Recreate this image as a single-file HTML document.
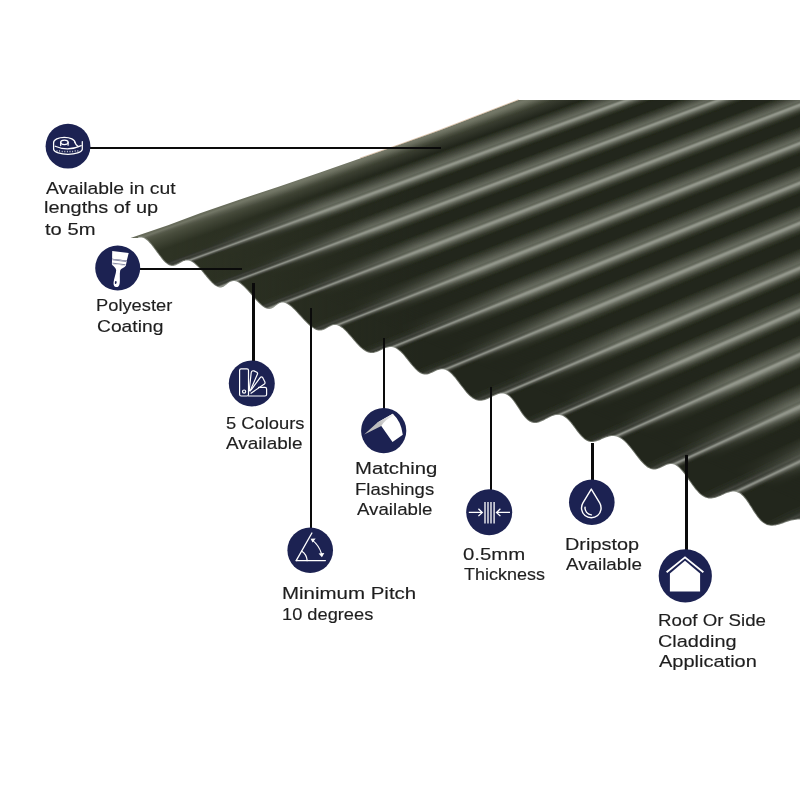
<!DOCTYPE html>
<html><head><meta charset="utf-8"><style>
html,body{margin:0;padding:0;background:#fff;}
body{width:800px;height:800px;position:relative;overflow:hidden;}
.t{position:absolute;font-family:"Liberation Sans",sans-serif;font-size:17.0px;line-height:18.989px;color:#1e1e1e;-webkit-text-stroke:0.15px #1e1e1e;white-space:nowrap;transform-origin:0 0;}
.ln{position:absolute;background:#0a0a0a;}
</style></head><body>
<svg width="800" height="800" viewBox="0 0 800 800" style="position:absolute;left:0;top:0">
<defs>
<filter id="eb" x="-5%" y="-5%" width="110%" height="110%"><feGaussianBlur stdDeviation="0.6"/></filter>
<mask id="sil" maskUnits="userSpaceOnUse" x="0" y="0" width="800" height="800"><path d="M518.5,100.0 L440.0,130.2 L400.0,144.6 L360.0,158.4 L320.0,172.6 L280.0,186.2 L240.0,199.6 L200.0,213.2 L168.0,225.2 L130.5,238.0 L138.0,237.9 L138.9,237.6 L139.8,237.5 L140.7,237.4 L141.7,237.5 L142.6,237.7 L143.6,238.1 L144.6,238.6 L145.6,239.2 L146.6,239.9 L147.6,240.8 L148.6,241.8 L149.6,242.9 L150.7,244.1 L151.7,245.3 L152.8,246.7 L153.8,248.1 L154.9,249.5 L156.0,250.9 L157.0,252.4 L158.1,253.8 L159.1,255.3 L160.2,256.6 L161.2,257.9 L162.2,259.2 L163.2,260.4 L164.2,261.4 L165.2,262.4 L166.2,263.3 L167.2,264.0 L168.1,264.7 L169.1,265.2 L170.0,265.6 L170.9,265.8 L171.8,266.0 L172.7,266.0 L173.5,265.9 L174.4,265.8 L175.2,265.5 L176.1,265.2 L176.9,264.8 L177.8,264.3 L178.6,263.9 L179.4,263.4 L180.3,262.9 L181.1,262.4 L182.0,261.9 L182.8,261.5 L183.7,261.1 L184.6,260.9 L185.5,260.6 L186.4,260.5 L187.3,260.5 L188.2,260.6 L189.2,260.8 L190.2,261.1 L191.2,261.5 L192.2,262.1 L193.3,262.7 L194.3,263.5 L195.4,264.4 L196.5,265.4 L197.6,266.4 L198.7,267.6 L199.8,268.8 L201.0,270.1 L202.1,271.4 L203.2,272.8 L204.3,274.2 L205.5,275.5 L206.6,276.9 L207.7,278.2 L208.8,279.5 L209.9,280.7 L210.9,281.8 L212.0,282.9 L213.0,283.8 L214.0,284.7 L215.0,285.5 L216.0,286.1 L216.9,286.6 L217.8,287.0 L218.6,287.3 L219.5,287.4 L220.3,287.5 L221.1,287.4 L221.9,287.3 L222.6,287.0 L223.4,286.7 L224.1,286.3 L224.8,285.8 L225.5,285.3 L226.2,284.8 L227.0,284.2 L227.7,283.6 L228.4,283.1 L229.1,282.6 L229.9,282.1 L230.6,281.7 L231.4,281.4 L232.2,281.2 L233.1,281.0 L233.9,281.0 L234.8,281.1 L235.7,281.3 L236.7,281.6 L237.6,282.0 L238.7,282.6 L239.7,283.2 L240.8,284.0 L241.9,284.9 L243.1,285.9 L244.2,287.0 L245.4,288.2 L246.6,289.5 L247.8,290.8 L249.1,292.2 L250.3,293.6 L251.5,295.0 L252.7,296.4 L254.0,297.8 L255.2,299.2 L256.4,300.5 L257.6,301.8 L258.8,303.0 L259.9,304.1 L261.0,305.1 L262.1,306.0 L263.2,306.8 L264.2,307.4 L265.2,308.0 L266.2,308.4 L267.1,308.7 L268.0,308.9 L268.9,309.0 L269.7,309.0 L270.5,308.8 L271.3,308.6 L272.1,308.2 L272.8,307.8 L273.5,307.4 L274.3,306.9 L275.0,306.3 L275.7,305.8 L276.4,305.2 L277.1,304.7 L277.8,304.2 L278.6,303.7 L279.3,303.3 L280.1,302.9 L280.9,302.7 L281.7,302.5 L282.6,302.5 L283.4,302.6 L284.3,302.7 L285.3,303.0 L286.3,303.5 L287.3,304.0 L288.4,304.7 L289.5,305.4 L290.6,306.3 L291.8,307.3 L293.0,308.4 L294.2,309.6 L295.4,310.8 L296.6,312.1 L297.9,313.5 L299.2,314.9 L300.5,316.3 L301.8,317.7 L303.0,319.1 L304.3,320.5 L305.6,321.8 L306.9,323.1 L308.1,324.3 L309.4,325.4 L310.6,326.4 L311.8,327.3 L313.0,328.1 L314.1,328.8 L315.3,329.4 L316.3,329.9 L317.4,330.2 L318.4,330.5 L319.5,330.6 L320.4,330.6 L321.4,330.5 L322.3,330.3 L323.2,330.0 L324.1,329.7 L325.0,329.3 L325.9,328.8 L326.7,328.3 L327.6,327.8 L328.4,327.3 L329.3,326.8 L330.1,326.4 L331.0,326.0 L331.9,325.6 L332.7,325.3 L333.6,325.1 L334.5,325.0 L335.4,325.0 L336.3,325.1 L337.3,325.3 L338.3,325.7 L339.2,326.1 L340.3,326.7 L341.3,327.4 L342.4,328.1 L343.4,329.0 L344.5,330.0 L345.6,331.1 L346.8,332.3 L347.9,333.6 L349.1,334.9 L350.3,336.2 L351.5,337.6 L352.7,339.0 L353.9,340.4 L355.1,341.8 L356.3,343.2 L357.5,344.5 L358.7,345.7 L359.9,346.9 L361.1,348.0 L362.3,349.0 L363.5,349.9 L364.7,350.7 L365.9,351.4 L367.0,351.9 L368.2,352.4 L369.3,352.7 L370.5,352.9 L371.6,353.0 L372.7,353.0 L373.8,352.9 L374.9,352.6 L376.0,352.3 L377.1,352.0 L378.2,351.5 L379.3,351.1 L380.3,350.6 L381.4,350.0 L382.4,349.5 L383.5,349.0 L384.5,348.5 L385.6,348.1 L386.6,347.7 L387.7,347.4 L388.7,347.2 L389.8,347.0 L390.8,347.0 L391.9,347.1 L393.0,347.3 L394.0,347.6 L395.1,348.0 L396.2,348.5 L397.2,349.2 L398.3,350.0 L399.4,350.9 L400.5,351.8 L401.6,352.9 L402.7,354.1 L403.8,355.3 L404.8,356.6 L405.9,357.9 L407.0,359.3 L408.1,360.7 L409.2,362.1 L410.3,363.4 L411.4,364.8 L412.5,366.1 L413.6,367.3 L414.7,368.5 L415.7,369.6 L416.8,370.5 L417.8,371.4 L418.9,372.2 L419.9,372.9 L421.0,373.4 L422.0,373.9 L423.1,374.2 L424.1,374.4 L425.1,374.5 L426.1,374.5 L427.1,374.4 L428.1,374.2 L429.1,373.9 L430.1,373.5 L431.1,373.1 L432.1,372.7 L433.1,372.2 L434.1,371.7 L435.1,371.2 L436.1,370.8 L437.1,370.3 L438.1,370.0 L439.1,369.7 L440.1,369.4 L441.1,369.3 L442.2,369.3 L443.2,369.3 L444.2,369.5 L445.3,369.8 L446.3,370.3 L447.4,370.8 L448.5,371.5 L449.5,372.3 L450.6,373.3 L451.7,374.3 L452.8,375.5 L453.9,376.7 L455.1,378.0 L456.2,379.5 L457.3,380.9 L458.5,382.4 L459.6,384.0 L460.8,385.6 L462.0,387.1 L463.2,388.6 L464.3,390.1 L465.5,391.6 L466.7,393.0 L467.9,394.3 L469.1,395.5 L470.3,396.5 L471.6,397.5 L472.8,398.4 L474.0,399.1 L475.2,399.7 L476.5,400.2 L477.7,400.5 L478.9,400.7 L480.2,400.7 L481.4,400.7 L482.7,400.5 L483.9,400.3 L485.2,399.9 L486.4,399.4 L487.7,398.9 L488.9,398.4 L490.1,397.8 L491.3,397.2 L492.5,396.5 L493.8,395.9 L494.9,395.4 L496.1,394.9 L497.3,394.4 L498.5,394.0 L499.7,393.7 L500.8,393.6 L501.9,393.5 L503.1,393.6 L504.2,393.7 L505.3,394.1 L506.3,394.5 L507.4,395.1 L508.4,395.8 L509.5,396.6 L510.5,397.6 L511.5,398.6 L512.5,399.8 L513.5,401.1 L514.5,402.4 L515.4,403.8 L516.4,405.3 L517.4,406.8 L518.4,408.3 L519.4,409.8 L520.3,411.3 L521.3,412.8 L522.3,414.2 L523.3,415.5 L524.3,416.8 L525.4,417.9 L526.4,419.0 L527.4,419.9 L528.5,420.8 L529.5,421.5 L530.6,422.0 L531.7,422.5 L532.9,422.8 L534.0,423.0 L535.2,423.0 L536.4,422.9 L537.6,422.7 L538.8,422.4 L540.0,422.0 L541.2,421.5 L542.4,421.0 L543.7,420.4 L544.9,419.8 L546.1,419.1 L547.4,418.4 L548.6,417.8 L549.8,417.2 L551.1,416.6 L552.3,416.1 L553.5,415.7 L554.8,415.3 L556.0,415.1 L557.2,414.9 L558.4,414.9 L559.5,415.0 L560.7,415.2 L561.9,415.6 L563.0,416.1 L564.1,416.7 L565.2,417.4 L566.3,418.2 L567.4,419.2 L568.4,420.3 L569.5,421.4 L570.5,422.6 L571.6,423.9 L572.6,425.3 L573.7,426.7 L574.7,428.1 L575.8,429.5 L576.8,430.9 L577.8,432.2 L578.9,433.6 L579.9,434.8 L581.0,436.0 L582.0,437.1 L583.1,438.1 L584.1,439.0 L585.2,439.8 L586.3,440.5 L587.4,441.0 L588.5,441.4 L589.6,441.7 L590.7,441.9 L591.9,442.0 L593.0,442.0 L594.2,441.8 L595.4,441.6 L596.6,441.2 L597.8,440.8 L599.0,440.4 L600.2,439.9 L601.4,439.3 L602.6,438.8 L603.9,438.3 L605.1,437.8 L606.4,437.3 L607.6,436.9 L608.9,436.5 L610.1,436.2 L611.4,436.1 L612.7,436.0 L613.9,436.1 L615.2,436.2 L616.5,436.5 L617.8,437.0 L619.0,437.5 L620.3,438.2 L621.6,439.1 L622.9,440.0 L624.1,441.1 L625.4,442.3 L626.7,443.6 L627.9,445.0 L629.2,446.4 L630.5,448.0 L631.7,449.6 L633.0,451.2 L634.2,452.8 L635.5,454.5 L636.7,456.1 L638.0,457.7 L639.2,459.2 L640.4,460.7 L641.6,462.0 L642.8,463.3 L644.0,464.5 L645.2,465.6 L646.3,466.5 L647.5,467.4 L648.6,468.0 L649.8,468.6 L650.9,469.0 L652.0,469.3 L653.1,469.5 L654.2,469.5 L655.3,469.4 L656.4,469.2 L657.5,469.0 L658.5,468.6 L659.6,468.2 L660.6,467.7 L661.7,467.2 L662.7,466.7 L663.8,466.2 L664.8,465.7 L665.8,465.2 L666.9,464.8 L667.9,464.5 L669.0,464.2 L670.0,464.0 L671.1,464.0 L672.1,464.1 L673.2,464.3 L674.2,464.6 L675.3,465.1 L676.4,465.7 L677.5,466.4 L678.5,467.3 L679.6,468.3 L680.7,469.4 L681.8,470.7 L682.9,472.0 L684.1,473.5 L685.2,475.0 L686.3,476.6 L687.5,478.2 L688.6,479.9 L689.8,481.6 L691.0,483.3 L692.2,485.0 L693.4,486.6 L694.6,488.2 L695.8,489.7 L697.1,491.1 L698.3,492.4 L699.5,493.7 L700.8,494.7 L702.1,495.7 L703.4,496.5 L704.7,497.2 L706.0,497.7 L707.3,498.1 L708.6,498.4 L710.0,498.5 L711.3,498.5 L712.7,498.3 L714.1,498.1 L715.4,497.7 L716.8,497.3 L718.1,496.8 L719.5,496.3 L720.9,495.7 L722.2,495.0 L723.6,494.4 L724.9,493.8 L726.2,493.3 L727.6,492.8 L728.9,492.4 L730.2,492.0 L731.5,491.8 L732.7,491.6 L734.0,491.6 L735.2,491.7 L736.4,492.0 L737.6,492.4 L738.8,492.9 L740.0,493.6 L741.1,494.4 L742.2,495.4 L743.3,496.5 L744.3,497.7 L745.4,499.0 L746.5,500.4 L747.5,501.9 L748.6,503.5 L749.6,505.2 L750.7,506.8 L751.8,508.5 L752.8,510.2 L753.9,511.9 L755.0,513.6 L756.1,515.1 L757.2,516.7 L758.3,518.1 L759.5,519.4 L760.6,520.7 L761.8,521.8 L763.1,522.8 L764.3,523.6 L765.6,524.3 L766.9,524.9 L768.3,525.3 L769.7,525.6 L771.1,525.7 L772.5,525.7 L774.0,525.6 L775.5,525.4 L777.0,525.1 L778.6,524.7 L780.1,524.3 L781.7,523.7 L783.3,523.2 L784.9,522.6 L786.5,522.0 L788.1,521.5 L789.7,521.0 L791.3,520.5 L793.0,520.2 L794.6,519.9 L796.2,519.7 L797.8,519.6 L799.4,519.6 L801.0,519.8 L802.6,520.2 L804.2,520.6 L805.7,521.2 L807.3,522.0 L808.8,522.9 L810.3,523.9 L811.8,525.1 L813.2,526.4 L814.7,527.8 L816.1,529.3 L817.5,530.8 L818.9,532.5 L820.3,534.2 L821.7,535.9 L823.0,537.7 L824.4,539.4 L825.7,541.2 L827.0,542.8 L828.3,544.5 L829.6,546.0 L830.8,547.5 L832.0,548.8 L833.3,550.0 L834.5,551.1 L835.6,552.1 L836.8,552.9 L838.0,553.5 L839.1,554.0 L840.2,554.4 L841.3,554.6 L842.4,554.6 L843.5,554.5 L812.0,554.5 L812.0,100.0Z" fill="#fff" filter="url(#eb)"/></mask>
<filter id="bl" x="-5%" y="-5%" width="110%" height="110%"><feGaussianBlur stdDeviation="0.45"/></filter>
<linearGradient id="lr" gradientUnits="userSpaceOnUse" x1="150" y1="0" x2="600" y2="0">
<stop offset="0" stop-color="#6a7052" stop-opacity="0.0"/>
<stop offset="1" stop-color="#6a7052" stop-opacity="0"/>
</linearGradient>
<linearGradient id="ebg" gradientUnits="userSpaceOnUse" x1="130.5" y1="238.0" x2="137.9" y2="258.7"><stop offset="0" stop-color="#6a6e5c" stop-opacity="0.95"/><stop offset="0.45" stop-color="#6a6e5c" stop-opacity="0.4275"/><stop offset="1" stop-color="#6a6e5c" stop-opacity="0"/></linearGradient>
<linearGradient id="lt" gradientUnits="userSpaceOnUse" x1="170" y1="0" x2="430" y2="0"><stop offset="0" stop-color="#2e3324" stop-opacity="1"/><stop offset="1" stop-color="#2e3324" stop-opacity="0"/></linearGradient>
<linearGradient id="bmg" gradientUnits="userSpaceOnUse" x1="149.0" y1="224.1" x2="182.4" y2="145.9"><stop offset="0" stop-color="#000"/><stop offset="1" stop-color="#fff"/></linearGradient>
<mask id="bm" maskUnits="userSpaceOnUse" x="0" y="0" width="800" height="800"><rect x="0" y="0" width="800" height="800" fill="url(#bmg)"/></mask>
</defs>
<g mask="url(#sil)">
<rect x="0" y="0" width="800" height="800" fill="#21251a"/>
<g filter="url(#bl)"><path d="M39.9,228.2 L437.0,90.0 L442.9,90.0 L42.1,229.7Z" fill="#8e9189"/><path d="M40.3,228.5 L438.2,90.0 L444.1,90.0 L42.6,230.0Z" fill="#7e8179"/><path d="M40.8,228.8 L439.4,90.0 L445.3,90.0 L43.0,230.3Z" fill="#6b6e65"/><path d="M41.2,229.1 L440.6,90.0 L446.5,90.0 L43.4,230.6Z" fill="#585b52"/><path d="M41.7,229.4 L441.7,90.0 L447.7,90.0 L43.9,230.9Z" fill="#4a4d44"/><path d="M42.1,229.7 L442.9,90.0 L448.8,90.0 L44.3,231.1Z" fill="#41443b"/><path d="M42.6,230.0 L444.1,90.0 L450.0,90.0 L44.8,231.4Z" fill="#393c33"/><path d="M43.0,230.3 L445.3,90.0 L451.2,90.0 L45.2,231.7Z" fill="#30332a"/><path d="M43.4,230.6 L446.5,90.0 L452.4,90.0 L45.7,232.0Z" fill="#2b2e24"/><path d="M43.9,230.9 L447.7,90.0 L453.6,90.0 L46.1,232.3Z" fill="#282c22"/><path d="M44.3,231.1 L448.8,90.0 L454.7,90.0 L46.6,232.6Z" fill="#262a1e"/><path d="M44.8,231.4 L450.0,90.0 L529.4,90.0 L75.2,251.5Z" fill="#22271a"/><path d="M73.4,250.3 L524.7,90.0 L534.0,90.0 L77.0,252.6Z" fill="#272b20"/><path d="M75.2,251.5 L529.4,90.0 L538.6,90.0 L78.8,253.8Z" fill="#292e24"/><path d="M77.0,252.6 L534.0,90.0 L540.9,90.0 L79.7,254.4Z" fill="#2b2f26"/><path d="M77.9,253.2 L536.3,90.0 L542.0,90.0 L80.1,254.7Z" fill="#2e3229"/><path d="M78.4,253.5 L537.4,90.0 L543.2,90.0 L80.6,255.0Z" fill="#33362e"/><path d="M78.8,253.8 L538.6,90.0 L544.3,90.0 L81.0,255.3Z" fill="#373a32"/><path d="M79.2,254.1 L539.7,90.0 L545.5,90.0 L81.5,255.6Z" fill="#3b3f36"/><path d="M79.7,254.4 L540.9,90.0 L547.7,90.0 L82.4,256.2Z" fill="#40433b"/><path d="M80.6,255.0 L543.2,90.0 L548.9,90.0 L82.8,256.5Z" fill="#3c3f37"/><path d="M81.0,255.3 L544.3,90.0 L551.2,90.0 L83.7,257.1Z" fill="#393c34"/><path d="M81.9,255.9 L546.6,90.0 L552.3,90.0 L84.2,257.4Z" fill="#41443c"/><path d="M82.4,256.2 L547.7,90.0 L553.5,90.0 L84.6,257.6Z" fill="#494c44"/><path d="M82.8,256.5 L548.9,90.0 L554.6,90.0 L85.1,257.9Z" fill="#50534b"/><path d="M83.3,256.8 L550.0,90.0 L555.8,90.0 L85.5,258.2Z" fill="#666a62"/><path d="M83.7,257.1 L551.2,90.0 L556.9,90.0 L86.0,258.5Z" fill="#7d8078"/><path d="M84.2,257.4 L552.3,90.0 L558.0,90.0 L86.4,258.8Z" fill="#8e9189"/><path d="M84.6,257.6 L553.5,90.0 L558.6,90.0 L87.0,258.8Z" fill="#8e9189"/><path d="M85.1,257.9 L554.5,90.0 L559.6,90.0 L87.5,259.1Z" fill="#7e8179"/><path d="M85.6,258.1 L555.5,90.0 L560.6,90.0 L88.0,259.3Z" fill="#6b6e65"/><path d="M86.0,258.4 L556.5,90.0 L561.7,90.0 L88.4,259.5Z" fill="#585b52"/><path d="M86.5,258.6 L557.6,90.0 L562.7,90.0 L88.9,259.8Z" fill="#4a4d44"/><path d="M87.0,258.8 L558.6,90.0 L563.7,90.0 L89.4,260.0Z" fill="#41443b"/><path d="M87.5,259.1 L559.6,90.0 L564.7,90.0 L89.9,260.2Z" fill="#393c33"/><path d="M88.0,259.3 L560.6,90.0 L565.8,90.0 L90.3,260.5Z" fill="#30332a"/><path d="M88.4,259.5 L561.7,90.0 L566.8,90.0 L90.8,260.7Z" fill="#2b2e24"/><path d="M88.9,259.8 L562.7,90.0 L567.8,90.0 L91.3,261.0Z" fill="#282c22"/><path d="M89.4,260.0 L563.7,90.0 L568.8,90.0 L91.8,261.2Z" fill="#262a1e"/><path d="M89.9,260.2 L564.7,90.0 L633.6,90.0 L122.3,276.3Z" fill="#22271a"/><path d="M120.4,275.4 L629.5,90.0 L637.6,90.0 L124.2,277.3Z" fill="#272b20"/><path d="M122.3,276.3 L633.6,90.0 L641.6,90.0 L126.1,278.2Z" fill="#292e24"/><path d="M124.2,277.3 L637.6,90.0 L643.6,90.0 L127.1,278.7Z" fill="#2b2f26"/><path d="M125.2,277.8 L639.6,90.0 L644.6,90.0 L127.5,278.9Z" fill="#2e3229"/><path d="M125.6,278.0 L640.6,90.0 L645.6,90.0 L128.0,279.2Z" fill="#33362e"/><path d="M126.1,278.2 L641.6,90.0 L646.6,90.0 L128.5,279.4Z" fill="#373a32"/><path d="M126.6,278.5 L642.6,90.0 L647.6,90.0 L129.0,279.6Z" fill="#3b3f36"/><path d="M127.1,278.7 L643.6,90.0 L649.6,90.0 L129.9,280.1Z" fill="#40433b"/><path d="M128.0,279.2 L645.6,90.0 L650.6,90.0 L130.4,280.4Z" fill="#3c3f37"/><path d="M128.5,279.4 L646.6,90.0 L652.6,90.0 L131.4,280.8Z" fill="#393c34"/><path d="M129.4,279.9 L648.6,90.0 L653.6,90.0 L131.8,281.1Z" fill="#41443c"/><path d="M129.9,280.1 L649.6,90.0 L654.6,90.0 L132.3,281.3Z" fill="#494c44"/><path d="M130.4,280.4 L650.6,90.0 L655.6,90.0 L132.8,281.5Z" fill="#50534b"/><path d="M130.9,280.6 L651.6,90.0 L656.5,90.0 L133.3,281.8Z" fill="#666a62"/><path d="M131.4,280.8 L652.6,90.0 L657.5,90.0 L133.7,282.0Z" fill="#7d8078"/><path d="M131.8,281.1 L653.6,90.0 L658.5,90.0 L134.2,282.2Z" fill="#8e9189"/><path d="M132.3,281.3 L654.6,90.0 L659.2,90.0 L134.6,282.3Z" fill="#8e9189"/><path d="M132.8,281.5 L655.5,90.0 L660.1,90.0 L135.1,282.6Z" fill="#7e8179"/><path d="M133.2,281.7 L656.4,90.0 L661.0,90.0 L135.6,282.8Z" fill="#6b6e65"/><path d="M133.7,281.9 L657.3,90.0 L661.9,90.0 L136.0,283.0Z" fill="#585b52"/><path d="M134.2,282.1 L658.2,90.0 L662.8,90.0 L136.5,283.2Z" fill="#4a4d44"/><path d="M134.6,282.3 L659.2,90.0 L663.8,90.0 L137.0,283.4Z" fill="#41443b"/><path d="M135.1,282.6 L660.1,90.0 L664.7,90.0 L137.4,283.6Z" fill="#393c33"/><path d="M135.6,282.8 L661.0,90.0 L665.6,90.0 L137.9,283.8Z" fill="#30332a"/><path d="M136.0,283.0 L661.9,90.0 L666.5,90.0 L138.4,284.0Z" fill="#2b2e24"/><path d="M136.5,283.2 L662.8,90.0 L667.4,90.0 L138.8,284.2Z" fill="#282c22"/><path d="M137.0,283.4 L663.8,90.0 L668.3,90.0 L139.3,284.4Z" fill="#262a1e"/><path d="M137.4,283.6 L664.7,90.0 L726.6,90.0 L169.2,297.8Z" fill="#22271a"/><path d="M167.3,297.0 L723.0,90.0 L730.2,90.0 L171.0,298.6Z" fill="#272b20"/><path d="M169.2,297.8 L726.6,90.0 L733.8,90.0 L172.9,299.5Z" fill="#292e24"/><path d="M171.0,298.6 L730.2,90.0 L735.6,90.0 L173.8,299.9Z" fill="#2b2f26"/><path d="M172.0,299.1 L732.0,90.0 L736.5,90.0 L174.3,300.1Z" fill="#2e3229"/><path d="M172.4,299.3 L732.9,90.0 L737.4,90.0 L174.8,300.3Z" fill="#33362e"/><path d="M172.9,299.5 L733.8,90.0 L738.3,90.0 L175.2,300.5Z" fill="#373a32"/><path d="M173.4,299.7 L734.7,90.0 L739.2,90.0 L175.7,300.7Z" fill="#3b3f36"/><path d="M173.8,299.9 L735.6,90.0 L741.0,90.0 L176.6,301.1Z" fill="#40433b"/><path d="M174.8,300.3 L737.4,90.0 L741.9,90.0 L177.1,301.4Z" fill="#3c3f37"/><path d="M175.2,300.5 L738.3,90.0 L743.7,90.0 L178.0,301.8Z" fill="#393c34"/><path d="M176.2,300.9 L740.1,90.0 L744.6,90.0 L178.5,302.0Z" fill="#41443c"/><path d="M176.6,301.1 L741.0,90.0 L745.5,90.0 L179.0,302.2Z" fill="#494c44"/><path d="M177.1,301.4 L741.9,90.0 L746.4,90.0 L179.4,302.4Z" fill="#50534b"/><path d="M177.6,301.6 L742.8,90.0 L747.3,90.0 L179.9,302.6Z" fill="#666a62"/><path d="M178.0,301.8 L743.7,90.0 L748.2,90.0 L180.4,302.8Z" fill="#7d8078"/><path d="M178.5,302.0 L744.6,90.0 L749.1,90.0 L180.9,303.0Z" fill="#8e9189"/><path d="M179.0,302.2 L745.5,90.0 L750.2,90.0 L181.4,303.3Z" fill="#8e9189"/><path d="M179.5,302.4 L746.5,90.0 L751.2,90.0 L181.9,303.5Z" fill="#7e8179"/><path d="M180.0,302.6 L747.4,90.0 L752.1,90.0 L182.4,303.7Z" fill="#6b6e65"/><path d="M180.4,302.8 L748.3,90.0 L753.0,90.0 L182.9,303.9Z" fill="#585b52"/><path d="M180.9,303.1 L749.3,90.0 L754.0,90.0 L183.4,304.2Z" fill="#4a4d44"/><path d="M181.4,303.3 L750.2,90.0 L754.9,90.0 L183.9,304.4Z" fill="#41443b"/><path d="M181.9,303.5 L751.2,90.0 L755.9,90.0 L184.4,304.6Z" fill="#393c33"/><path d="M182.4,303.7 L752.1,90.0 L756.8,90.0 L184.8,304.8Z" fill="#30332a"/><path d="M182.9,303.9 L753.0,90.0 L757.7,90.0 L185.3,305.0Z" fill="#2b2e24"/><path d="M183.4,304.2 L754.0,90.0 L758.7,90.0 L185.8,305.3Z" fill="#282c22"/><path d="M183.9,304.4 L754.9,90.0 L759.6,90.0 L186.3,305.5Z" fill="#262a1e"/><path d="M184.4,304.6 L755.9,90.0 L819.1,90.0 L217.5,319.5Z" fill="#22271a"/><path d="M215.6,318.6 L815.4,90.0 L822.8,90.0 L219.5,320.4Z" fill="#272b20"/><path d="M217.5,319.5 L819.1,90.0 L826.5,90.0 L221.4,321.3Z" fill="#292e24"/><path d="M219.5,320.4 L822.8,90.0 L828.4,90.0 L222.4,321.7Z" fill="#2b2f26"/><path d="M220.5,320.8 L824.7,90.0 L829.3,90.0 L222.9,321.9Z" fill="#2e3229"/><path d="M221.0,321.0 L825.6,90.0 L830.2,90.0 L223.4,322.1Z" fill="#33362e"/><path d="M221.4,321.3 L826.5,90.0 L831.1,90.0 L223.9,322.3Z" fill="#373a32"/><path d="M221.9,321.5 L827.4,90.0 L832.0,90.0 L224.4,322.6Z" fill="#3b3f36"/><path d="M222.4,321.7 L828.4,90.0 L833.9,90.0 L225.3,323.0Z" fill="#40433b"/><path d="M223.4,322.1 L830.2,90.0 L834.8,90.0 L225.8,323.2Z" fill="#3c3f37"/><path d="M223.9,322.3 L831.1,90.0 L836.6,90.0 L226.8,323.7Z" fill="#393c34"/><path d="M224.9,322.8 L833.0,90.0 L837.5,90.0 L227.3,323.9Z" fill="#41443c"/><path d="M225.3,323.0 L833.9,90.0 L838.5,90.0 L227.8,324.1Z" fill="#494c44"/><path d="M225.8,323.2 L834.8,90.0 L839.4,90.0 L228.3,324.3Z" fill="#50534b"/><path d="M226.3,323.4 L835.7,90.0 L840.3,90.0 L228.8,324.5Z" fill="#666a62"/><path d="M226.8,323.7 L836.6,90.0 L841.2,90.0 L229.3,324.8Z" fill="#7d8078"/><path d="M227.3,323.9 L837.5,90.0 L842.1,90.0 L229.7,325.0Z" fill="#8e9189"/><path d="M227.8,324.1 L838.5,90.0 L843.4,90.0 L230.4,325.3Z" fill="#8e9189"/><path d="M228.3,324.3 L839.4,90.0 L844.3,90.0 L231.0,325.5Z" fill="#7e8179"/><path d="M228.8,324.6 L840.4,90.0 L845.3,90.0 L231.5,325.7Z" fill="#6b6e65"/><path d="M229.4,324.8 L841.4,90.0 L846.3,90.0 L232.0,325.9Z" fill="#585b52"/><path d="M229.9,325.0 L842.4,90.0 L847.3,90.0 L232.6,326.2Z" fill="#4a4d44"/><path d="M230.4,325.3 L843.4,90.0 L848.3,90.0 L233.1,326.4Z" fill="#41443b"/><path d="M231.0,325.5 L844.3,90.0 L849.2,90.0 L233.6,326.6Z" fill="#393c33"/><path d="M231.5,325.7 L845.3,90.0 L850.2,90.0 L234.2,326.9Z" fill="#30332a"/><path d="M232.0,325.9 L846.3,90.0 L851.2,90.0 L234.7,327.1Z" fill="#2b2e24"/><path d="M232.6,326.2 L847.3,90.0 L852.2,90.0 L235.2,327.3Z" fill="#282c22"/><path d="M233.1,326.4 L848.3,90.0 L853.1,90.0 L235.8,327.6Z" fill="#262a1e"/><path d="M233.6,326.6 L849.2,90.0 L915.1,90.0 L269.7,342.3Z" fill="#22271a"/><path d="M267.6,341.4 L911.3,90.0 L919.0,90.0 L271.9,343.2Z" fill="#272b20"/><path d="M269.7,342.3 L915.1,90.0 L922.8,90.0 L274.0,344.1Z" fill="#292e24"/><path d="M271.9,343.2 L919.0,90.0 L924.7,90.0 L275.0,344.6Z" fill="#2b2f26"/><path d="M272.9,343.7 L920.9,90.0 L925.7,90.0 L275.6,344.8Z" fill="#2e3229"/><path d="M273.5,343.9 L921.8,90.0 L926.6,90.0 L276.1,345.1Z" fill="#33362e"/><path d="M274.0,344.1 L922.8,90.0 L927.6,90.0 L276.6,345.3Z" fill="#373a32"/><path d="M274.5,344.4 L923.8,90.0 L928.5,90.0 L277.2,345.5Z" fill="#3b3f36"/><path d="M275.0,344.6 L924.7,90.0 L930.5,90.0 L278.2,346.0Z" fill="#40433b"/><path d="M276.1,345.1 L926.6,90.0 L931.4,90.0 L278.8,346.2Z" fill="#3c3f37"/><path d="M276.6,345.3 L927.6,90.0 L933.3,90.0 L279.8,346.7Z" fill="#393c34"/><path d="M277.7,345.8 L929.5,90.0 L934.3,90.0 L280.4,346.9Z" fill="#41443c"/><path d="M278.2,346.0 L930.5,90.0 L935.2,90.0 L280.9,347.1Z" fill="#494c44"/><path d="M278.8,346.2 L931.4,90.0 L936.2,90.0 L281.4,347.4Z" fill="#50534b"/><path d="M279.3,346.4 L932.4,90.0 L937.1,90.0 L282.0,347.6Z" fill="#666a62"/><path d="M279.8,346.7 L933.3,90.0 L938.1,90.0 L282.5,347.8Z" fill="#7d8078"/><path d="M280.4,346.9 L934.3,90.0 L939.1,90.0 L283.0,348.1Z" fill="#8e9189"/><path d="M280.9,347.1 L935.2,90.0 L940.1,90.0 L283.7,348.3Z" fill="#8e9189"/><path d="M281.4,347.4 L936.2,90.0 L941.0,90.0 L284.2,348.5Z" fill="#7e8179"/><path d="M282.0,347.6 L937.2,90.0 L942.0,90.0 L284.8,348.7Z" fill="#6b6e65"/><path d="M282.6,347.8 L938.1,90.0 L943.0,90.0 L285.4,348.9Z" fill="#585b52"/><path d="M283.1,348.0 L939.1,90.0 L943.9,90.0 L285.9,349.2Z" fill="#4a4d44"/><path d="M283.7,348.3 L940.1,90.0 L944.9,90.0 L286.5,349.4Z" fill="#41443b"/><path d="M284.2,348.5 L941.0,90.0 L945.8,90.0 L287.0,349.6Z" fill="#393c33"/><path d="M284.8,348.7 L942.0,90.0 L946.8,90.0 L287.6,349.8Z" fill="#30332a"/><path d="M285.4,348.9 L943.0,90.0 L947.8,90.0 L288.1,350.1Z" fill="#2b2e24"/><path d="M285.9,349.2 L943.9,90.0 L948.7,90.0 L288.7,350.3Z" fill="#282c22"/><path d="M286.5,349.4 L944.9,90.0 L949.7,90.0 L289.3,350.5Z" fill="#262a1e"/><path d="M287.0,349.6 L945.8,90.0 L1010.7,90.0 L325.0,364.9Z" fill="#22271a"/><path d="M322.7,364.0 L1007.0,90.0 L1014.5,90.0 L327.2,365.8Z" fill="#272b20"/><path d="M325.0,364.9 L1010.7,90.0 L1018.3,90.0 L329.4,366.7Z" fill="#292e24"/><path d="M327.2,365.8 L1014.5,90.0 L1020.2,90.0 L330.6,367.1Z" fill="#2b2f26"/><path d="M328.3,366.2 L1016.4,90.0 L1021.1,90.0 L331.1,367.3Z" fill="#2e3229"/><path d="M328.9,366.4 L1017.4,90.0 L1022.1,90.0 L331.7,367.6Z" fill="#33362e"/><path d="M329.4,366.7 L1018.3,90.0 L1023.0,90.0 L332.2,367.8Z" fill="#373a32"/><path d="M330.0,366.9 L1019.2,90.0 L1024.0,90.0 L332.8,368.0Z" fill="#3b3f36"/><path d="M330.6,367.1 L1020.2,90.0 L1025.9,90.0 L333.9,368.5Z" fill="#40433b"/><path d="M331.7,367.6 L1022.1,90.0 L1026.8,90.0 L334.5,368.7Z" fill="#3c3f37"/><path d="M332.2,367.8 L1023.0,90.0 L1028.7,90.0 L335.6,369.1Z" fill="#393c34"/><path d="M333.3,368.2 L1024.9,90.0 L1029.6,90.0 L336.1,369.3Z" fill="#41443c"/><path d="M333.9,368.5 L1025.9,90.0 L1030.6,90.0 L336.7,369.6Z" fill="#494c44"/><path d="M334.5,368.7 L1026.8,90.0 L1031.5,90.0 L337.3,369.8Z" fill="#50534b"/><path d="M335.0,368.9 L1027.7,90.0 L1032.4,90.0 L337.8,370.0Z" fill="#666a62"/><path d="M335.6,369.1 L1028.7,90.0 L1033.4,90.0 L338.4,370.2Z" fill="#7d8078"/><path d="M336.1,369.3 L1029.6,90.0 L1034.3,90.0 L338.9,370.5Z" fill="#8e9189"/><path d="M336.7,369.6 L1030.6,90.0 L1035.2,90.0 L339.3,370.7Z" fill="#8e9189"/><path d="M337.2,369.8 L1031.5,90.0 L1036.1,90.0 L339.8,371.0Z" fill="#7e8179"/><path d="M337.7,370.0 L1032.4,90.0 L1037.0,90.0 L340.4,371.2Z" fill="#6b6e65"/><path d="M338.3,370.3 L1033.3,90.0 L1037.9,90.0 L340.9,371.4Z" fill="#585b52"/><path d="M338.8,370.5 L1034.3,90.0 L1038.9,90.0 L341.4,371.6Z" fill="#4a4d44"/><path d="M339.3,370.7 L1035.2,90.0 L1039.8,90.0 L341.9,371.9Z" fill="#41443b"/><path d="M339.8,371.0 L1036.1,90.0 L1040.7,90.0 L342.5,372.1Z" fill="#393c33"/><path d="M340.4,371.2 L1037.0,90.0 L1041.6,90.0 L343.0,372.3Z" fill="#30332a"/><path d="M340.9,371.4 L1037.9,90.0 L1042.6,90.0 L343.5,372.6Z" fill="#2b2e24"/><path d="M341.4,371.6 L1038.9,90.0 L1043.5,90.0 L344.0,372.8Z" fill="#282c22"/><path d="M341.9,371.9 L1039.8,90.0 L1044.4,90.0 L344.6,373.0Z" fill="#262a1e"/><path d="M342.5,372.1 L1040.7,90.0 L1102.9,90.0 L378.2,387.7Z" fill="#22271a"/><path d="M376.1,386.8 L1099.2,90.0 L1106.5,90.0 L380.3,388.6Z" fill="#272b20"/><path d="M378.2,387.7 L1102.9,90.0 L1110.1,90.0 L382.4,389.5Z" fill="#292e24"/><path d="M380.3,388.6 L1106.5,90.0 L1111.9,90.0 L383.4,390.0Z" fill="#2b2f26"/><path d="M381.3,389.1 L1108.3,90.0 L1112.8,90.0 L384.0,390.2Z" fill="#2e3229"/><path d="M381.9,389.3 L1109.2,90.0 L1113.7,90.0 L384.5,390.5Z" fill="#33362e"/><path d="M382.4,389.5 L1110.1,90.0 L1114.6,90.0 L385.0,390.7Z" fill="#373a32"/><path d="M382.9,389.8 L1111.0,90.0 L1115.5,90.0 L385.5,390.9Z" fill="#3b3f36"/><path d="M383.4,390.0 L1111.9,90.0 L1117.3,90.0 L386.6,391.4Z" fill="#40433b"/><path d="M384.5,390.5 L1113.7,90.0 L1118.2,90.0 L387.1,391.6Z" fill="#3c3f37"/><path d="M385.0,390.7 L1114.6,90.0 L1120.0,90.0 L388.2,392.1Z" fill="#393c34"/><path d="M386.1,391.2 L1116.4,90.0 L1120.9,90.0 L388.7,392.3Z" fill="#41443c"/><path d="M386.6,391.4 L1117.3,90.0 L1121.8,90.0 L389.2,392.5Z" fill="#494c44"/><path d="M387.1,391.6 L1118.2,90.0 L1122.7,90.0 L389.7,392.8Z" fill="#50534b"/><path d="M387.6,391.8 L1119.1,90.0 L1123.6,90.0 L390.3,393.0Z" fill="#666a62"/><path d="M388.2,392.1 L1120.0,90.0 L1124.5,90.0 L390.8,393.2Z" fill="#7d8078"/><path d="M388.7,392.3 L1120.9,90.0 L1125.4,90.0 L391.3,393.5Z" fill="#8e9189"/><path d="M389.2,392.5 L1121.8,90.0 L1126.8,90.0 L392.2,393.8Z" fill="#8e9189"/><path d="M389.8,392.8 L1122.8,90.0 L1127.8,90.0 L392.8,394.0Z" fill="#7e8179"/><path d="M390.4,393.0 L1123.8,90.0 L1128.7,90.0 L393.3,394.2Z" fill="#6b6e65"/><path d="M391.0,393.3 L1124.8,90.0 L1129.7,90.0 L393.9,394.5Z" fill="#585b52"/><path d="M391.6,393.5 L1125.8,90.0 L1130.7,90.0 L394.5,394.7Z" fill="#4a4d44"/><path d="M392.2,393.8 L1126.8,90.0 L1131.7,90.0 L395.1,395.0Z" fill="#41443b"/><path d="M392.8,394.0 L1127.8,90.0 L1132.7,90.0 L395.7,395.2Z" fill="#393c33"/><path d="M393.3,394.2 L1128.7,90.0 L1133.7,90.0 L396.3,395.5Z" fill="#30332a"/><path d="M393.9,394.5 L1129.7,90.0 L1134.6,90.0 L396.9,395.7Z" fill="#2b2e24"/><path d="M394.5,394.7 L1130.7,90.0 L1135.6,90.0 L397.5,396.0Z" fill="#282c22"/><path d="M395.1,395.0 L1131.7,90.0 L1136.6,90.0 L398.1,396.2Z" fill="#262a1e"/><path d="M395.7,395.2 L1132.7,90.0 L1199.0,90.0 L435.9,411.9Z" fill="#22271a"/><path d="M433.5,410.9 L1195.1,90.0 L1202.9,90.0 L438.3,412.9Z" fill="#272b20"/><path d="M435.9,411.9 L1199.0,90.0 L1206.7,90.0 L440.6,413.9Z" fill="#292e24"/><path d="M438.3,412.9 L1202.9,90.0 L1208.7,90.0 L441.8,414.4Z" fill="#2b2f26"/><path d="M439.4,413.4 L1204.8,90.0 L1209.6,90.0 L442.4,414.6Z" fill="#2e3229"/><path d="M440.0,413.6 L1205.8,90.0 L1210.6,90.0 L443.0,414.8Z" fill="#33362e"/><path d="M440.6,413.9 L1206.7,90.0 L1211.6,90.0 L443.6,415.1Z" fill="#373a32"/><path d="M441.2,414.1 L1207.7,90.0 L1212.5,90.0 L444.2,415.3Z" fill="#3b3f36"/><path d="M441.8,414.4 L1208.7,90.0 L1214.4,90.0 L445.3,415.8Z" fill="#40433b"/><path d="M443.0,414.8 L1210.6,90.0 L1215.4,90.0 L445.9,416.1Z" fill="#3c3f37"/><path d="M443.6,415.1 L1211.6,90.0 L1217.3,90.0 L447.1,416.6Z" fill="#393c34"/><path d="M444.8,415.6 L1213.5,90.0 L1218.3,90.0 L447.7,416.8Z" fill="#41443c"/><path d="M445.3,415.8 L1214.4,90.0 L1219.3,90.0 L448.3,417.0Z" fill="#494c44"/><path d="M445.9,416.1 L1215.4,90.0 L1220.2,90.0 L448.9,417.3Z" fill="#50534b"/><path d="M446.5,416.3 L1216.4,90.0 L1221.2,90.0 L449.5,417.5Z" fill="#666a62"/><path d="M447.1,416.6 L1217.3,90.0 L1222.1,90.0 L450.1,417.8Z" fill="#7d8078"/><path d="M447.7,416.8 L1218.3,90.0 L1223.1,90.0 L450.7,418.0Z" fill="#8e9189"/><path d="M448.3,417.0 L1219.3,90.0 L1223.7,90.0 L451.1,418.1Z" fill="#8e9189"/><path d="M448.9,417.3 L1220.1,90.0 L1224.5,90.0 L451.6,418.4Z" fill="#7e8179"/><path d="M449.4,417.5 L1221.0,90.0 L1225.4,90.0 L452.2,418.6Z" fill="#6b6e65"/><path d="M450.0,417.7 L1221.9,90.0 L1226.3,90.0 L452.7,418.8Z" fill="#585b52"/><path d="M450.5,417.9 L1222.8,90.0 L1227.2,90.0 L453.3,419.0Z" fill="#4a4d44"/><path d="M451.1,418.1 L1223.7,90.0 L1228.0,90.0 L453.9,419.2Z" fill="#41443b"/><path d="M451.6,418.4 L1224.5,90.0 L1228.9,90.0 L454.4,419.4Z" fill="#393c33"/><path d="M452.2,418.6 L1225.4,90.0 L1229.8,90.0 L455.0,419.7Z" fill="#30332a"/><path d="M452.7,418.8 L1226.3,90.0 L1230.7,90.0 L455.5,419.9Z" fill="#2b2e24"/><path d="M453.3,419.0 L1227.2,90.0 L1231.6,90.0 L456.1,420.1Z" fill="#282c22"/><path d="M453.9,419.2 L1228.0,90.0 L1232.4,90.0 L456.6,420.3Z" fill="#262a1e"/><path d="M454.4,419.4 L1228.9,90.0 L1288.1,90.0 L492.2,434.3Z" fill="#22271a"/><path d="M489.9,433.4 L1284.6,90.0 L1291.6,90.0 L494.4,435.1Z" fill="#272b20"/><path d="M492.2,434.3 L1288.1,90.0 L1295.0,90.0 L496.6,436.0Z" fill="#292e24"/><path d="M494.4,435.1 L1291.6,90.0 L1296.7,90.0 L497.7,436.5Z" fill="#2b2f26"/><path d="M495.5,435.6 L1293.3,90.0 L1297.6,90.0 L498.3,436.7Z" fill="#2e3229"/><path d="M496.1,435.8 L1294.1,90.0 L1298.5,90.0 L498.8,436.9Z" fill="#33362e"/><path d="M496.6,436.0 L1295.0,90.0 L1299.3,90.0 L499.4,437.1Z" fill="#373a32"/><path d="M497.2,436.2 L1295.9,90.0 L1300.2,90.0 L499.9,437.3Z" fill="#3b3f36"/><path d="M497.7,436.5 L1296.7,90.0 L1301.9,90.0 L501.1,437.8Z" fill="#40433b"/><path d="M498.8,436.9 L1298.5,90.0 L1302.8,90.0 L501.6,438.0Z" fill="#3c3f37"/><path d="M499.4,437.1 L1299.3,90.0 L1304.5,90.0 L502.7,438.4Z" fill="#393c34"/><path d="M500.5,437.5 L1301.0,90.0 L1305.3,90.0 L503.3,438.6Z" fill="#41443c"/><path d="M501.1,437.8 L1301.9,90.0 L1306.2,90.0 L503.8,438.9Z" fill="#494c44"/><path d="M501.6,438.0 L1302.8,90.0 L1307.1,90.0 L504.4,439.1Z" fill="#50534b"/><path d="M502.2,438.2 L1303.6,90.0 L1307.9,90.0 L504.9,439.3Z" fill="#666a62"/><path d="M502.7,438.4 L1304.5,90.0 L1308.8,90.0 L505.5,439.5Z" fill="#7d8078"/><path d="M503.3,438.6 L1305.3,90.0 L1309.6,90.0 L506.1,439.7Z" fill="#8e9189"/><path d="M503.8,438.9 L1306.2,90.0 L1310.6,90.0 L506.7,440.0Z" fill="#8e9189"/><path d="M504.4,439.1 L1307.1,90.0 L1311.4,90.0 L507.3,440.2Z" fill="#7e8179"/><path d="M505.0,439.3 L1307.9,90.0 L1312.3,90.0 L507.8,440.4Z" fill="#6b6e65"/><path d="M505.5,439.5 L1308.8,90.0 L1313.2,90.0 L508.4,440.6Z" fill="#585b52"/><path d="M506.1,439.7 L1309.7,90.0 L1314.0,90.0 L509.0,440.8Z" fill="#4a4d44"/><path d="M506.7,440.0 L1310.6,90.0 L1314.9,90.0 L509.5,441.0Z" fill="#41443b"/><path d="M507.3,440.2 L1311.4,90.0 L1315.8,90.0 L510.1,441.3Z" fill="#393c33"/><path d="M507.8,440.4 L1312.3,90.0 L1316.7,90.0 L510.7,441.5Z" fill="#30332a"/><path d="M508.4,440.6 L1313.2,90.0 L1317.5,90.0 L511.3,441.7Z" fill="#2b2e24"/><path d="M509.0,440.8 L1314.0,90.0 L1318.4,90.0 L511.8,441.9Z" fill="#282c22"/><path d="M509.5,441.0 L1314.9,90.0 L1319.3,90.0 L512.4,442.1Z" fill="#262a1e"/><path d="M510.1,441.3 L1315.8,90.0 L1374.6,90.0 L549.0,456.2Z" fill="#22271a"/><path d="M546.7,455.3 L1371.2,90.0 L1378.0,90.0 L551.2,457.0Z" fill="#272b20"/><path d="M549.0,456.2 L1374.6,90.0 L1381.4,90.0 L553.5,457.9Z" fill="#292e24"/><path d="M551.2,457.0 L1378.0,90.0 L1383.2,90.0 L554.7,458.4Z" fill="#2b2f26"/><path d="M552.4,457.5 L1379.7,90.0 L1384.0,90.0 L555.2,458.6Z" fill="#2e3229"/><path d="M552.9,457.7 L1380.6,90.0 L1384.9,90.0 L555.8,458.8Z" fill="#33362e"/><path d="M553.5,457.9 L1381.4,90.0 L1385.7,90.0 L556.4,459.0Z" fill="#373a32"/><path d="M554.1,458.1 L1382.3,90.0 L1386.6,90.0 L556.9,459.2Z" fill="#3b3f36"/><path d="M554.7,458.4 L1383.2,90.0 L1388.3,90.0 L558.1,459.7Z" fill="#40433b"/><path d="M555.8,458.8 L1384.9,90.0 L1389.1,90.0 L558.7,459.9Z" fill="#3c3f37"/><path d="M556.4,459.0 L1385.7,90.0 L1390.9,90.0 L559.8,460.3Z" fill="#393c34"/><path d="M557.5,459.5 L1387.4,90.0 L1391.7,90.0 L560.4,460.5Z" fill="#41443c"/><path d="M558.1,459.7 L1388.3,90.0 L1392.6,90.0 L560.9,460.8Z" fill="#494c44"/><path d="M558.7,459.9 L1389.1,90.0 L1393.4,90.0 L561.5,461.0Z" fill="#50534b"/><path d="M559.2,460.1 L1390.0,90.0 L1394.3,90.0 L562.1,461.2Z" fill="#666a62"/><path d="M559.8,460.3 L1390.9,90.0 L1395.1,90.0 L562.7,461.4Z" fill="#7d8078"/><path d="M560.4,460.5 L1391.7,90.0 L1396.0,90.0 L563.2,461.6Z" fill="#8e9189"/><path d="M560.9,460.8 L1392.6,90.0 L1397.5,90.0 L563.9,462.2Z" fill="#8e9189"/><path d="M561.5,461.1 L1393.5,90.0 L1398.5,90.0 L564.4,462.5Z" fill="#7e8179"/><path d="M562.1,461.3 L1394.5,90.0 L1399.4,90.0 L565.0,462.8Z" fill="#6b6e65"/><path d="M562.7,461.6 L1395.5,90.0 L1400.4,90.0 L565.6,463.1Z" fill="#585b52"/><path d="M563.3,461.9 L1396.5,90.0 L1401.4,90.0 L566.2,463.3Z" fill="#4a4d44"/><path d="M563.9,462.2 L1397.5,90.0 L1402.4,90.0 L566.8,463.6Z" fill="#41443b"/><path d="M564.4,462.5 L1398.5,90.0 L1403.4,90.0 L567.3,463.9Z" fill="#393c33"/><path d="M565.0,462.8 L1399.4,90.0 L1404.3,90.0 L567.9,464.2Z" fill="#30332a"/><path d="M565.6,463.1 L1400.4,90.0 L1405.3,90.0 L568.5,464.5Z" fill="#2b2e24"/><path d="M566.2,463.3 L1401.4,90.0 L1406.3,90.0 L569.1,464.8Z" fill="#282c22"/><path d="M566.8,463.6 L1402.4,90.0 L1407.3,90.0 L569.7,465.1Z" fill="#262a1e"/><path d="M567.3,463.9 L1403.4,90.0 L1469.3,90.0 L606.9,483.4Z" fill="#22271a"/><path d="M604.6,482.2 L1465.5,90.0 L1473.2,90.0 L609.2,484.5Z" fill="#272b20"/><path d="M606.9,483.4 L1469.3,90.0 L1477.0,90.0 L611.5,485.7Z" fill="#292e24"/><path d="M609.2,484.5 L1473.2,90.0 L1478.9,90.0 L612.7,486.3Z" fill="#2b2f26"/><path d="M610.4,485.1 L1475.1,90.0 L1479.9,90.0 L613.3,486.5Z" fill="#2e3229"/><path d="M611.0,485.4 L1476.0,90.0 L1480.8,90.0 L613.9,486.8Z" fill="#33362e"/><path d="M611.5,485.7 L1477.0,90.0 L1481.8,90.0 L614.4,487.1Z" fill="#373a32"/><path d="M612.1,486.0 L1478.0,90.0 L1482.7,90.0 L615.0,487.4Z" fill="#3b3f36"/><path d="M612.7,486.3 L1478.9,90.0 L1484.6,90.0 L616.2,488.0Z" fill="#40433b"/><path d="M613.9,486.8 L1480.8,90.0 L1485.6,90.0 L616.8,488.3Z" fill="#3c3f37"/><path d="M614.4,487.1 L1481.8,90.0 L1487.5,90.0 L617.9,488.8Z" fill="#393c34"/><path d="M615.6,487.7 L1483.7,90.0 L1488.5,90.0 L618.5,489.1Z" fill="#41443c"/><path d="M616.2,488.0 L1484.6,90.0 L1489.4,90.0 L619.1,489.4Z" fill="#494c44"/><path d="M616.8,488.3 L1485.6,90.0 L1490.4,90.0 L619.7,489.7Z" fill="#50534b"/><path d="M617.3,488.6 L1486.6,90.0 L1491.3,90.0 L620.3,490.0Z" fill="#666a62"/><path d="M617.9,488.8 L1487.5,90.0 L1492.3,90.0 L620.8,490.3Z" fill="#7d8078"/><path d="M618.5,489.1 L1488.5,90.0 L1493.2,90.0 L621.4,490.6Z" fill="#8e9189"/><path d="M619.1,489.4 L1489.4,90.0 L1494.3,90.0 L622.2,490.8Z" fill="#8e9189"/><path d="M619.7,489.7 L1490.4,90.0 L1495.3,90.0 L622.8,491.1Z" fill="#7e8179"/><path d="M620.3,490.0 L1491.4,90.0 L1496.3,90.0 L623.5,491.4Z" fill="#6b6e65"/><path d="M621.0,490.3 L1492.4,90.0 L1497.2,90.0 L624.1,491.7Z" fill="#585b52"/><path d="M621.6,490.5 L1493.3,90.0 L1498.2,90.0 L624.7,491.9Z" fill="#4a4d44"/><path d="M622.2,490.8 L1494.3,90.0 L1499.2,90.0 L625.3,492.2Z" fill="#41443b"/><path d="M622.8,491.1 L1495.3,90.0 L1500.2,90.0 L626.0,492.5Z" fill="#393c33"/><path d="M623.5,491.4 L1496.3,90.0 L1501.1,90.0 L626.6,492.8Z" fill="#30332a"/><path d="M624.1,491.7 L1497.2,90.0 L1502.1,90.0 L627.2,493.1Z" fill="#2b2e24"/><path d="M624.7,491.9 L1498.2,90.0 L1503.1,90.0 L627.8,493.3Z" fill="#282c22"/><path d="M625.3,492.2 L1499.2,90.0 L1504.1,90.0 L628.5,493.6Z" fill="#262a1e"/><path d="M626.0,492.5 L1500.2,90.0 L1565.8,90.0 L668.4,511.6Z" fill="#22271a"/><path d="M665.9,510.4 L1561.9,90.0 L1569.6,90.0 L670.9,512.7Z" fill="#272b20"/><path d="M668.4,511.6 L1565.8,90.0 L1573.4,90.0 L673.4,513.8Z" fill="#292e24"/><path d="M670.9,512.7 L1569.6,90.0 L1575.3,90.0 L674.6,514.4Z" fill="#2b2f26"/><path d="M672.1,513.3 L1571.5,90.0 L1576.3,90.0 L675.3,514.7Z" fill="#2e3229"/><path d="M672.8,513.5 L1572.4,90.0 L1577.2,90.0 L675.9,514.9Z" fill="#33362e"/><path d="M673.4,513.8 L1573.4,90.0 L1578.2,90.0 L676.5,515.2Z" fill="#373a32"/><path d="M674.0,514.1 L1574.4,90.0 L1579.1,90.0 L677.1,515.5Z" fill="#3b3f36"/><path d="M674.6,514.4 L1575.3,90.0 L1581.0,90.0 L678.4,516.1Z" fill="#40433b"/><path d="M675.9,514.9 L1577.2,90.0 L1582.0,90.0 L679.0,516.3Z" fill="#3c3f37"/><path d="M676.5,515.2 L1578.2,90.0 L1583.9,90.0 L680.2,516.9Z" fill="#393c34"/><path d="M677.8,515.8 L1580.1,90.0 L1584.8,90.0 L680.9,517.2Z" fill="#41443c"/><path d="M678.4,516.1 L1581.0,90.0 L1585.8,90.0 L681.5,517.5Z" fill="#494c44"/><path d="M679.0,516.3 L1582.0,90.0 L1586.7,90.0 L682.1,517.7Z" fill="#50534b"/><path d="M679.6,516.6 L1582.9,90.0 L1587.7,90.0 L682.7,518.0Z" fill="#666a62"/><path d="M680.2,516.9 L1583.9,90.0 L1588.6,90.0 L683.4,518.3Z" fill="#7d8078"/><path d="M680.9,517.2 L1584.8,90.0 L1589.6,90.0 L684.0,518.6Z" fill="#8e9189"/><path d="M681.5,517.5 L1585.8,90.0 L1590.7,90.0 L684.8,518.9Z" fill="#8e9189"/><path d="M682.2,517.7 L1586.8,90.0 L1591.7,90.0 L685.5,519.2Z" fill="#7e8179"/><path d="M682.8,518.0 L1587.7,90.0 L1592.7,90.0 L686.1,519.5Z" fill="#6b6e65"/><path d="M683.5,518.3 L1588.7,90.0 L1593.7,90.0 L686.8,519.8Z" fill="#585b52"/><path d="M684.1,518.6 L1589.7,90.0 L1594.7,90.0 L687.5,520.0Z" fill="#4a4d44"/><path d="M684.8,518.9 L1590.7,90.0 L1595.7,90.0 L688.1,520.3Z" fill="#41443b"/><path d="M685.5,519.2 L1591.7,90.0 L1596.7,90.0 L688.8,520.6Z" fill="#393c33"/><path d="M686.1,519.5 L1592.7,90.0 L1597.6,90.0 L689.4,520.9Z" fill="#30332a"/><path d="M686.8,519.8 L1593.7,90.0 L1598.6,90.0 L690.1,521.2Z" fill="#2b2e24"/><path d="M687.5,520.0 L1594.7,90.0 L1599.6,90.0 L690.8,521.5Z" fill="#282c22"/><path d="M688.1,520.3 L1595.7,90.0 L1600.6,90.0 L691.4,521.8Z" fill="#262a1e"/><path d="M688.8,520.6 L1596.7,90.0 L1663.2,90.0 L733.8,540.2Z" fill="#22271a"/><path d="M731.2,539.0 L1659.3,90.0 L1667.1,90.0 L736.5,541.3Z" fill="#272b20"/><path d="M733.8,540.2 L1663.2,90.0 L1670.9,90.0 L739.1,542.5Z" fill="#292e24"/><path d="M736.5,541.3 L1667.1,90.0 L1672.9,90.0 L740.5,543.1Z" fill="#2b2f26"/><path d="M737.8,541.9 L1669.0,90.0 L1673.8,90.0 L741.1,543.4Z" fill="#2e3229"/><path d="M738.5,542.2 L1670.0,90.0 L1674.8,90.0 L741.8,543.7Z" fill="#33362e"/><path d="M739.1,542.5 L1670.9,90.0 L1675.8,90.0 L742.5,543.9Z" fill="#373a32"/><path d="M739.8,542.8 L1671.9,90.0 L1676.7,90.0 L743.1,544.2Z" fill="#3b3f36"/><path d="M740.5,543.1 L1672.9,90.0 L1678.7,90.0 L744.4,544.8Z" fill="#40433b"/><path d="M741.8,543.7 L1674.8,90.0 L1679.6,90.0 L745.1,545.1Z" fill="#3c3f37"/><path d="M742.5,543.9 L1675.8,90.0 L1681.6,90.0 L746.4,545.7Z" fill="#393c34"/><path d="M743.8,544.5 L1677.7,90.0 L1682.5,90.0 L747.1,546.0Z" fill="#41443c"/><path d="M744.4,544.8 L1678.7,90.0 L1683.5,90.0 L747.8,546.2Z" fill="#494c44"/><path d="M745.1,545.1 L1679.6,90.0 L1684.5,90.0 L748.4,546.5Z" fill="#50534b"/><path d="M745.8,545.4 L1680.6,90.0 L1685.4,90.0 L749.1,546.8Z" fill="#666a62"/><path d="M746.4,545.7 L1681.6,90.0 L1686.4,90.0 L749.7,547.1Z" fill="#7d8078"/><path d="M747.1,546.0 L1682.5,90.0 L1687.3,90.0 L750.4,547.4Z" fill="#8e9189"/><path d="M747.8,546.2 L1683.5,90.0 L1688.1,90.0 L751.0,547.6Z" fill="#8e9189"/><path d="M748.4,546.5 L1684.4,90.0 L1689.1,90.0 L751.6,547.9Z" fill="#7e8179"/><path d="M749.0,546.8 L1685.3,90.0 L1690.0,90.0 L752.3,548.2Z" fill="#6b6e65"/><path d="M749.7,547.1 L1686.3,90.0 L1690.9,90.0 L752.9,548.4Z" fill="#585b52"/><path d="M750.3,547.3 L1687.2,90.0 L1691.8,90.0 L753.5,548.7Z" fill="#4a4d44"/><path d="M751.0,547.6 L1688.1,90.0 L1692.8,90.0 L754.2,549.0Z" fill="#41443b"/><path d="M751.6,547.9 L1689.1,90.0 L1693.7,90.0 L754.8,549.3Z" fill="#393c33"/><path d="M752.3,548.2 L1690.0,90.0 L1694.6,90.0 L755.5,549.5Z" fill="#30332a"/><path d="M752.9,548.4 L1690.9,90.0 L1695.5,90.0 L756.1,549.8Z" fill="#2b2e24"/><path d="M753.5,548.7 L1691.8,90.0 L1696.5,90.0 L756.8,550.1Z" fill="#282c22"/><path d="M754.2,549.0 L1692.8,90.0 L1697.4,90.0 L757.4,550.4Z" fill="#262a1e"/><path d="M754.8,549.3 L1693.7,90.0 L1756.1,90.0 L798.6,568.0Z" fill="#22271a"/><path d="M796.1,566.9 L1752.5,90.0 L1759.7,90.0 L801.2,569.1Z" fill="#272b20"/><path d="M798.6,568.0 L1756.1,90.0 L1763.4,90.0 L803.8,570.2Z" fill="#292e24"/><path d="M801.2,569.1 L1759.7,90.0 L1765.2,90.0 L805.1,570.8Z" fill="#2b2f26"/><path d="M802.5,569.7 L1761.6,90.0 L1766.1,90.0 L805.7,571.0Z" fill="#2e3229"/><path d="M803.2,569.9 L1762.5,90.0 L1767.0,90.0 L806.4,571.3Z" fill="#33362e"/><path d="M803.8,570.2 L1763.4,90.0 L1767.9,90.0 L807.0,571.6Z" fill="#373a32"/><path d="M804.4,570.5 L1764.3,90.0 L1768.8,90.0 L807.7,571.9Z" fill="#3b3f36"/><path d="M805.1,570.8 L1765.2,90.0 L1770.6,90.0 L808.9,572.4Z" fill="#40433b"/><path d="M806.4,571.3 L1767.0,90.0 L1771.5,90.0 L809.6,572.7Z" fill="#3c3f37"/><path d="M807.0,571.6 L1767.9,90.0 L1773.3,90.0 L810.9,573.2Z" fill="#393c34"/><path d="M808.3,572.1 L1769.7,90.0 L1774.2,90.0 L811.5,573.5Z" fill="#41443c"/><path d="M808.9,572.4 L1770.6,90.0 L1775.1,90.0 L812.2,573.8Z" fill="#494c44"/><path d="M809.6,572.7 L1771.5,90.0 L1776.0,90.0 L812.8,574.1Z" fill="#50534b"/><path d="M810.2,573.0 L1772.4,90.0 L1776.9,90.0 L813.5,574.3Z" fill="#666a62"/><path d="M810.9,573.2 L1773.3,90.0 L1777.9,90.0 L814.1,574.6Z" fill="#7d8078"/><path d="M811.5,573.5 L1774.2,90.0 L1778.8,90.0 L814.7,574.9Z" fill="#8e9189"/></g>
<g mask="url(#bm)"><g filter="url(#bl)"><path d="M39.9,228.2 L437.0,90.0 L442.9,90.0 L42.1,229.7Z" fill="#94988d"/><path d="M40.3,228.5 L438.2,90.0 L444.1,90.0 L42.6,230.0Z" fill="#91958a"/><path d="M40.8,228.8 L439.4,90.0 L445.3,90.0 L43.0,230.3Z" fill="#8e9287"/><path d="M41.2,229.1 L440.6,90.0 L446.5,90.0 L43.4,230.6Z" fill="#888c81"/><path d="M41.7,229.4 L441.7,90.0 L447.7,90.0 L43.9,230.9Z" fill="#82867a"/><path d="M42.1,229.7 L442.9,90.0 L448.8,90.0 L44.3,231.1Z" fill="#7a7e73"/><path d="M42.6,230.0 L444.1,90.0 L450.0,90.0 L44.8,231.4Z" fill="#74786c"/><path d="M43.0,230.3 L445.3,90.0 L451.2,90.0 L45.2,231.7Z" fill="#6d7165"/><path d="M43.4,230.6 L446.5,90.0 L452.4,90.0 L45.7,232.0Z" fill="#686c60"/><path d="M43.9,230.9 L447.7,90.0 L453.6,90.0 L46.1,232.3Z" fill="#63675b"/><path d="M44.3,231.1 L448.8,90.0 L454.7,90.0 L46.6,232.6Z" fill="#5d6155"/><path d="M44.8,231.4 L450.0,90.0 L455.9,90.0 L47.0,232.9Z" fill="#585c50"/><path d="M45.2,231.7 L451.2,90.0 L457.1,90.0 L47.5,233.2Z" fill="#53574b"/><path d="M45.7,232.0 L452.4,90.0 L458.3,90.0 L47.9,233.5Z" fill="#4e5246"/><path d="M46.1,232.3 L453.6,90.0 L459.5,90.0 L48.4,233.8Z" fill="#4a4e42"/><path d="M46.6,232.6 L454.7,90.0 L460.6,90.0 L48.8,234.1Z" fill="#464a3e"/><path d="M47.0,232.9 L455.9,90.0 L461.8,90.0 L49.3,234.4Z" fill="#42463a"/><path d="M47.5,233.2 L457.1,90.0 L463.0,90.0 L49.7,234.7Z" fill="#3e4236"/><path d="M47.9,233.5 L458.3,90.0 L464.2,90.0 L50.2,235.0Z" fill="#3a3e32"/><path d="M48.4,233.8 L459.5,90.0 L465.3,90.0 L50.6,235.3Z" fill="#363a2e"/><path d="M48.8,234.1 L460.6,90.0 L467.7,90.0 L51.5,235.9Z" fill="#32362a"/><path d="M49.7,234.7 L463.0,90.0 L470.0,90.0 L52.4,236.4Z" fill="#2d3225"/><path d="M50.6,235.3 L465.3,90.0 L472.4,90.0 L53.3,237.0Z" fill="#292d21"/><path d="M51.5,235.9 L467.7,90.0 L474.7,90.0 L54.2,237.6Z" fill="#24291c"/><path d="M52.4,236.4 L470.0,90.0 L508.5,90.0 L67.2,246.2Z" fill="#22271a"/><path d="M65.4,245.0 L503.9,90.0 L510.9,90.0 L68.1,246.8Z" fill="#282c20"/><path d="M66.3,245.6 L506.2,90.0 L513.2,90.0 L69.0,247.3Z" fill="#2b3024"/><path d="M67.2,246.2 L508.5,90.0 L515.5,90.0 L69.8,247.9Z" fill="#2f3428"/><path d="M68.1,246.8 L510.9,90.0 L517.8,90.0 L70.7,248.5Z" fill="#33372b"/><path d="M69.0,247.3 L513.2,90.0 L520.1,90.0 L71.6,249.1Z" fill="#373b2f"/><path d="M69.8,247.9 L515.5,90.0 L522.4,90.0 L72.5,249.7Z" fill="#3a3e33"/><path d="M70.7,248.5 L517.8,90.0 L524.7,90.0 L73.4,250.3Z" fill="#3e4237"/><path d="M71.6,249.1 L520.1,90.0 L527.0,90.0 L74.3,250.9Z" fill="#42463b"/><path d="M72.5,249.7 L522.4,90.0 L529.4,90.0 L75.2,251.5Z" fill="#474b3f"/><path d="M73.4,250.3 L524.7,90.0 L531.7,90.0 L76.1,252.1Z" fill="#4b4f44"/><path d="M74.3,250.9 L527.0,90.0 L534.0,90.0 L77.0,252.6Z" fill="#4f5348"/><path d="M75.2,251.5 L529.4,90.0 L536.3,90.0 L77.9,253.2Z" fill="#54584c"/><path d="M76.1,252.1 L531.7,90.0 L538.6,90.0 L78.8,253.8Z" fill="#585c50"/><path d="M77.0,252.6 L534.0,90.0 L540.9,90.0 L79.7,254.4Z" fill="#5d6155"/><path d="M77.9,253.2 L536.3,90.0 L543.2,90.0 L80.6,255.0Z" fill="#616559"/><path d="M78.8,253.8 L538.6,90.0 L546.6,90.0 L81.9,255.9Z" fill="#64685c"/><path d="M80.1,254.7 L542.0,90.0 L550.0,90.0 L83.3,256.8Z" fill="#616559"/><path d="M81.5,255.6 L545.5,90.0 L551.2,90.0 L83.7,257.1Z" fill="#666a5e"/><path d="M81.9,255.9 L546.6,90.0 L552.3,90.0 L84.2,257.4Z" fill="#6a6e62"/><path d="M82.4,256.2 L547.7,90.0 L553.5,90.0 L84.6,257.6Z" fill="#72766a"/><path d="M82.8,256.5 L548.9,90.0 L554.6,90.0 L85.1,257.9Z" fill="#7d8175"/><path d="M83.3,256.8 L550.0,90.0 L555.8,90.0 L85.5,258.2Z" fill="#888c80"/><path d="M83.7,257.1 L551.2,90.0 L556.9,90.0 L86.0,258.5Z" fill="#8e9286"/><path d="M84.2,257.4 L552.3,90.0 L558.0,90.0 L86.4,258.8Z" fill="#93978c"/><path d="M84.6,257.6 L553.5,90.0 L558.6,90.0 L87.0,258.8Z" fill="#94988d"/><path d="M85.1,257.9 L554.5,90.0 L559.6,90.0 L87.5,259.1Z" fill="#91958a"/><path d="M85.6,258.1 L555.5,90.0 L560.6,90.0 L88.0,259.3Z" fill="#8e9287"/><path d="M86.0,258.4 L556.5,90.0 L561.7,90.0 L88.4,259.5Z" fill="#888c81"/><path d="M86.5,258.6 L557.6,90.0 L562.7,90.0 L88.9,259.8Z" fill="#82867a"/><path d="M87.0,258.8 L558.6,90.0 L563.7,90.0 L89.4,260.0Z" fill="#7a7e73"/><path d="M87.5,259.1 L559.6,90.0 L564.7,90.0 L89.9,260.2Z" fill="#74786c"/><path d="M88.0,259.3 L560.6,90.0 L565.8,90.0 L90.3,260.5Z" fill="#6d7165"/><path d="M88.4,259.5 L561.7,90.0 L566.8,90.0 L90.8,260.7Z" fill="#686c60"/><path d="M88.9,259.8 L562.7,90.0 L567.8,90.0 L91.3,261.0Z" fill="#63675b"/><path d="M89.4,260.0 L563.7,90.0 L568.8,90.0 L91.8,261.2Z" fill="#5d6155"/><path d="M89.9,260.2 L564.7,90.0 L569.8,90.0 L92.2,261.4Z" fill="#585c50"/><path d="M90.3,260.5 L565.8,90.0 L570.9,90.0 L92.7,261.7Z" fill="#53574b"/><path d="M90.8,260.7 L566.8,90.0 L571.9,90.0 L93.2,261.9Z" fill="#4e5246"/><path d="M91.3,261.0 L567.8,90.0 L572.9,90.0 L93.7,262.1Z" fill="#4a4e42"/><path d="M91.8,261.2 L568.8,90.0 L573.9,90.0 L94.2,262.4Z" fill="#464a3e"/><path d="M92.2,261.4 L569.8,90.0 L574.9,90.0 L94.6,262.6Z" fill="#42463a"/><path d="M92.7,261.7 L570.9,90.0 L576.0,90.0 L95.1,262.8Z" fill="#3e4236"/><path d="M93.2,261.9 L571.9,90.0 L577.0,90.0 L95.6,263.1Z" fill="#3a3e32"/><path d="M93.7,262.1 L572.9,90.0 L578.0,90.0 L96.1,263.3Z" fill="#363a2e"/><path d="M94.2,262.4 L573.9,90.0 L580.0,90.0 L97.0,263.8Z" fill="#32362a"/><path d="M95.1,262.8 L576.0,90.0 L582.1,90.0 L98.0,264.3Z" fill="#2d3225"/><path d="M96.1,263.3 L578.0,90.0 L584.1,90.0 L98.9,264.7Z" fill="#292d21"/><path d="M97.0,263.8 L580.0,90.0 L586.1,90.0 L99.9,265.2Z" fill="#24291c"/><path d="M98.0,264.3 L582.1,90.0 L615.5,90.0 L113.7,272.1Z" fill="#22271a"/><path d="M111.8,271.1 L611.4,90.0 L617.5,90.0 L114.7,272.5Z" fill="#282c20"/><path d="M112.8,271.6 L613.5,90.0 L619.5,90.0 L115.6,273.0Z" fill="#2b3024"/><path d="M113.7,272.1 L615.5,90.0 L621.5,90.0 L116.6,273.5Z" fill="#2f3428"/><path d="M114.7,272.5 L617.5,90.0 L623.5,90.0 L117.5,274.0Z" fill="#33372b"/><path d="M115.6,273.0 L619.5,90.0 L625.5,90.0 L118.5,274.4Z" fill="#373b2f"/><path d="M116.6,273.5 L621.5,90.0 L627.5,90.0 L119.4,274.9Z" fill="#3a3e33"/><path d="M117.5,274.0 L623.5,90.0 L629.5,90.0 L120.4,275.4Z" fill="#3e4237"/><path d="M118.5,274.4 L625.5,90.0 L631.6,90.0 L121.3,275.9Z" fill="#42463b"/><path d="M119.4,274.9 L627.5,90.0 L633.6,90.0 L122.3,276.3Z" fill="#474b3f"/><path d="M120.4,275.4 L629.5,90.0 L635.6,90.0 L123.2,276.8Z" fill="#4b4f44"/><path d="M121.3,275.9 L631.6,90.0 L637.6,90.0 L124.2,277.3Z" fill="#4f5348"/><path d="M122.3,276.3 L633.6,90.0 L639.6,90.0 L125.2,277.8Z" fill="#54584c"/><path d="M123.2,276.8 L635.6,90.0 L641.6,90.0 L126.1,278.2Z" fill="#585c50"/><path d="M124.2,277.3 L637.6,90.0 L643.6,90.0 L127.1,278.7Z" fill="#5d6155"/><path d="M125.2,277.8 L639.6,90.0 L645.6,90.0 L128.0,279.2Z" fill="#616559"/><path d="M126.1,278.2 L641.6,90.0 L648.6,90.0 L129.4,279.9Z" fill="#64685c"/><path d="M127.5,278.9 L644.6,90.0 L651.6,90.0 L130.9,280.6Z" fill="#616559"/><path d="M129.0,279.6 L647.6,90.0 L652.6,90.0 L131.4,280.8Z" fill="#666a5e"/><path d="M129.4,279.9 L648.6,90.0 L653.6,90.0 L131.8,281.1Z" fill="#6a6e62"/><path d="M129.9,280.1 L649.6,90.0 L654.6,90.0 L132.3,281.3Z" fill="#72766a"/><path d="M130.4,280.4 L650.6,90.0 L655.6,90.0 L132.8,281.5Z" fill="#7d8175"/><path d="M130.9,280.6 L651.6,90.0 L656.5,90.0 L133.3,281.8Z" fill="#888c80"/><path d="M131.4,280.8 L652.6,90.0 L657.5,90.0 L133.7,282.0Z" fill="#8e9286"/><path d="M131.8,281.1 L653.6,90.0 L658.5,90.0 L134.2,282.2Z" fill="#93978c"/><path d="M132.3,281.3 L654.6,90.0 L659.2,90.0 L134.6,282.3Z" fill="#94988d"/><path d="M132.8,281.5 L655.5,90.0 L660.1,90.0 L135.1,282.6Z" fill="#91958a"/><path d="M133.2,281.7 L656.4,90.0 L661.0,90.0 L135.6,282.8Z" fill="#8e9287"/><path d="M133.7,281.9 L657.3,90.0 L661.9,90.0 L136.0,283.0Z" fill="#888c81"/><path d="M134.2,282.1 L658.2,90.0 L662.8,90.0 L136.5,283.2Z" fill="#82867a"/><path d="M134.6,282.3 L659.2,90.0 L663.8,90.0 L137.0,283.4Z" fill="#7a7e73"/><path d="M135.1,282.6 L660.1,90.0 L664.7,90.0 L137.4,283.6Z" fill="#74786c"/><path d="M135.6,282.8 L661.0,90.0 L665.6,90.0 L137.9,283.8Z" fill="#6d7165"/><path d="M136.0,283.0 L661.9,90.0 L666.5,90.0 L138.4,284.0Z" fill="#686c60"/><path d="M136.5,283.2 L662.8,90.0 L667.4,90.0 L138.8,284.2Z" fill="#63675b"/><path d="M137.0,283.4 L663.8,90.0 L668.3,90.0 L139.3,284.4Z" fill="#5d6155"/><path d="M137.4,283.6 L664.7,90.0 L669.3,90.0 L139.8,284.6Z" fill="#585c50"/><path d="M137.9,283.8 L665.6,90.0 L670.2,90.0 L140.2,284.9Z" fill="#53574b"/><path d="M138.4,284.0 L666.5,90.0 L671.1,90.0 L140.7,285.1Z" fill="#4e5246"/><path d="M138.8,284.2 L667.4,90.0 L672.0,90.0 L141.2,285.3Z" fill="#4a4e42"/><path d="M139.3,284.4 L668.3,90.0 L672.9,90.0 L141.6,285.5Z" fill="#464a3e"/><path d="M139.8,284.6 L669.3,90.0 L673.8,90.0 L142.1,285.7Z" fill="#42463a"/><path d="M140.2,284.9 L670.2,90.0 L674.8,90.0 L142.6,285.9Z" fill="#3e4236"/><path d="M140.7,285.1 L671.1,90.0 L675.7,90.0 L143.0,286.1Z" fill="#3a3e32"/><path d="M141.2,285.3 L672.0,90.0 L676.6,90.0 L143.5,286.3Z" fill="#363a2e"/><path d="M141.6,285.5 L672.9,90.0 L678.4,90.0 L144.4,286.7Z" fill="#32362a"/><path d="M142.6,285.9 L674.8,90.0 L680.2,90.0 L145.4,287.1Z" fill="#2d3225"/><path d="M143.5,286.3 L676.6,90.0 L682.1,90.0 L146.3,287.6Z" fill="#292d21"/><path d="M144.4,286.7 L678.4,90.0 L683.9,90.0 L147.2,288.0Z" fill="#24291c"/><path d="M145.4,287.1 L680.2,90.0 L710.3,90.0 L160.8,294.0Z" fill="#22271a"/><path d="M158.9,293.2 L706.7,90.0 L712.1,90.0 L161.7,294.5Z" fill="#282c20"/><path d="M159.8,293.6 L708.5,90.0 L713.9,90.0 L162.6,294.9Z" fill="#2b3024"/><path d="M160.8,294.0 L710.3,90.0 L715.7,90.0 L163.6,295.3Z" fill="#2f3428"/><path d="M161.7,294.5 L712.1,90.0 L717.6,90.0 L164.5,295.7Z" fill="#33372b"/><path d="M162.6,294.9 L713.9,90.0 L719.4,90.0 L165.4,296.1Z" fill="#373b2f"/><path d="M163.6,295.3 L715.7,90.0 L721.2,90.0 L166.4,296.5Z" fill="#3a3e33"/><path d="M164.5,295.7 L717.6,90.0 L723.0,90.0 L167.3,297.0Z" fill="#3e4237"/><path d="M165.4,296.1 L719.4,90.0 L724.8,90.0 L168.2,297.4Z" fill="#42463b"/><path d="M166.4,296.5 L721.2,90.0 L726.6,90.0 L169.2,297.8Z" fill="#474b3f"/><path d="M167.3,297.0 L723.0,90.0 L728.4,90.0 L170.1,298.2Z" fill="#4b4f44"/><path d="M168.2,297.4 L724.8,90.0 L730.2,90.0 L171.0,298.6Z" fill="#4f5348"/><path d="M169.2,297.8 L726.6,90.0 L732.0,90.0 L172.0,299.1Z" fill="#54584c"/><path d="M170.1,298.2 L728.4,90.0 L733.8,90.0 L172.9,299.5Z" fill="#585c50"/><path d="M171.0,298.6 L730.2,90.0 L735.6,90.0 L173.8,299.9Z" fill="#5d6155"/><path d="M172.0,299.1 L732.0,90.0 L737.4,90.0 L174.8,300.3Z" fill="#616559"/><path d="M172.9,299.5 L733.8,90.0 L740.1,90.0 L176.2,300.9Z" fill="#64685c"/><path d="M174.3,300.1 L736.5,90.0 L742.8,90.0 L177.6,301.6Z" fill="#616559"/><path d="M175.7,300.7 L739.2,90.0 L743.7,90.0 L178.0,301.8Z" fill="#666a5e"/><path d="M176.2,300.9 L740.1,90.0 L744.6,90.0 L178.5,302.0Z" fill="#6a6e62"/><path d="M176.6,301.1 L741.0,90.0 L745.5,90.0 L179.0,302.2Z" fill="#72766a"/><path d="M177.1,301.4 L741.9,90.0 L746.4,90.0 L179.4,302.4Z" fill="#7d8175"/><path d="M177.6,301.6 L742.8,90.0 L747.3,90.0 L179.9,302.6Z" fill="#888c80"/><path d="M178.0,301.8 L743.7,90.0 L748.2,90.0 L180.4,302.8Z" fill="#8e9286"/><path d="M178.5,302.0 L744.6,90.0 L749.1,90.0 L180.9,303.0Z" fill="#93978c"/><path d="M179.0,302.2 L745.5,90.0 L750.2,90.0 L181.4,303.3Z" fill="#94988d"/><path d="M179.5,302.4 L746.5,90.0 L751.2,90.0 L181.9,303.5Z" fill="#91958a"/><path d="M180.0,302.6 L747.4,90.0 L752.1,90.0 L182.4,303.7Z" fill="#8e9287"/><path d="M180.4,302.8 L748.3,90.0 L753.0,90.0 L182.9,303.9Z" fill="#888c81"/><path d="M180.9,303.1 L749.3,90.0 L754.0,90.0 L183.4,304.2Z" fill="#82867a"/><path d="M181.4,303.3 L750.2,90.0 L754.9,90.0 L183.9,304.4Z" fill="#7a7e73"/><path d="M181.9,303.5 L751.2,90.0 L755.9,90.0 L184.4,304.6Z" fill="#74786c"/><path d="M182.4,303.7 L752.1,90.0 L756.8,90.0 L184.8,304.8Z" fill="#6d7165"/><path d="M182.9,303.9 L753.0,90.0 L757.7,90.0 L185.3,305.0Z" fill="#686c60"/><path d="M183.4,304.2 L754.0,90.0 L758.7,90.0 L185.8,305.3Z" fill="#63675b"/><path d="M183.9,304.4 L754.9,90.0 L759.6,90.0 L186.3,305.5Z" fill="#5d6155"/><path d="M184.4,304.6 L755.9,90.0 L760.5,90.0 L186.8,305.7Z" fill="#585c50"/><path d="M184.8,304.8 L756.8,90.0 L761.5,90.0 L187.3,305.9Z" fill="#53574b"/><path d="M185.3,305.0 L757.7,90.0 L762.4,90.0 L187.8,306.1Z" fill="#4e5246"/><path d="M185.8,305.3 L758.7,90.0 L763.4,90.0 L188.3,306.4Z" fill="#4a4e42"/><path d="M186.3,305.5 L759.6,90.0 L764.3,90.0 L188.7,306.6Z" fill="#464a3e"/><path d="M186.8,305.7 L760.5,90.0 L765.2,90.0 L189.2,306.8Z" fill="#42463a"/><path d="M187.3,305.9 L761.5,90.0 L766.2,90.0 L189.7,307.0Z" fill="#3e4236"/><path d="M187.8,306.1 L762.4,90.0 L767.1,90.0 L190.2,307.2Z" fill="#3a3e32"/><path d="M188.3,306.4 L763.4,90.0 L768.0,90.0 L190.7,307.4Z" fill="#363a2e"/><path d="M188.7,306.6 L764.3,90.0 L769.9,90.0 L191.7,307.9Z" fill="#32362a"/><path d="M189.7,307.0 L766.2,90.0 L771.8,90.0 L192.6,308.3Z" fill="#2d3225"/><path d="M190.7,307.4 L768.0,90.0 L773.6,90.0 L193.6,308.8Z" fill="#292d21"/><path d="M191.7,307.9 L769.9,90.0 L775.5,90.0 L194.6,309.2Z" fill="#24291c"/><path d="M192.6,308.3 L771.8,90.0 L802.5,90.0 L208.8,315.6Z" fill="#22271a"/><path d="M206.8,314.7 L798.8,90.0 L804.3,90.0 L209.7,316.0Z" fill="#282c20"/><path d="M207.8,315.1 L800.6,90.0 L806.2,90.0 L210.7,316.4Z" fill="#2b3024"/><path d="M208.8,315.6 L802.5,90.0 L808.1,90.0 L211.7,316.9Z" fill="#2f3428"/><path d="M209.7,316.0 L804.3,90.0 L809.9,90.0 L212.7,317.3Z" fill="#33372b"/><path d="M210.7,316.4 L806.2,90.0 L811.8,90.0 L213.6,317.7Z" fill="#373b2f"/><path d="M211.7,316.9 L808.1,90.0 L813.6,90.0 L214.6,318.2Z" fill="#3a3e33"/><path d="M212.7,317.3 L809.9,90.0 L815.4,90.0 L215.6,318.6Z" fill="#3e4237"/><path d="M213.6,317.7 L811.8,90.0 L817.3,90.0 L216.6,319.1Z" fill="#42463b"/><path d="M214.6,318.2 L813.6,90.0 L819.1,90.0 L217.5,319.5Z" fill="#474b3f"/><path d="M215.6,318.6 L815.4,90.0 L821.0,90.0 L218.5,319.9Z" fill="#4b4f44"/><path d="M216.6,319.1 L817.3,90.0 L822.8,90.0 L219.5,320.4Z" fill="#4f5348"/><path d="M217.5,319.5 L819.1,90.0 L824.7,90.0 L220.5,320.8Z" fill="#54584c"/><path d="M218.5,319.9 L821.0,90.0 L826.5,90.0 L221.4,321.3Z" fill="#585c50"/><path d="M219.5,320.4 L822.8,90.0 L828.4,90.0 L222.4,321.7Z" fill="#5d6155"/><path d="M220.5,320.8 L824.7,90.0 L830.2,90.0 L223.4,322.1Z" fill="#616559"/><path d="M221.4,321.3 L826.5,90.0 L833.0,90.0 L224.9,322.8Z" fill="#64685c"/><path d="M222.9,321.9 L829.3,90.0 L835.7,90.0 L226.3,323.4Z" fill="#616559"/><path d="M224.4,322.6 L832.0,90.0 L836.6,90.0 L226.8,323.7Z" fill="#666a5e"/><path d="M224.9,322.8 L833.0,90.0 L837.5,90.0 L227.3,323.9Z" fill="#6a6e62"/><path d="M225.3,323.0 L833.9,90.0 L838.5,90.0 L227.8,324.1Z" fill="#72766a"/><path d="M225.8,323.2 L834.8,90.0 L839.4,90.0 L228.3,324.3Z" fill="#7d8175"/><path d="M226.3,323.4 L835.7,90.0 L840.3,90.0 L228.8,324.5Z" fill="#888c80"/><path d="M226.8,323.7 L836.6,90.0 L841.2,90.0 L229.3,324.8Z" fill="#8e9286"/><path d="M227.3,323.9 L837.5,90.0 L842.1,90.0 L229.7,325.0Z" fill="#93978c"/><path d="M227.8,324.1 L838.5,90.0 L843.4,90.0 L230.4,325.3Z" fill="#94988d"/><path d="M228.3,324.3 L839.4,90.0 L844.3,90.0 L231.0,325.5Z" fill="#91958a"/><path d="M228.8,324.6 L840.4,90.0 L845.3,90.0 L231.5,325.7Z" fill="#8e9287"/><path d="M229.4,324.8 L841.4,90.0 L846.3,90.0 L232.0,325.9Z" fill="#888c81"/><path d="M229.9,325.0 L842.4,90.0 L847.3,90.0 L232.6,326.2Z" fill="#82867a"/><path d="M230.4,325.3 L843.4,90.0 L848.3,90.0 L233.1,326.4Z" fill="#7a7e73"/><path d="M231.0,325.5 L844.3,90.0 L849.2,90.0 L233.6,326.6Z" fill="#74786c"/><path d="M231.5,325.7 L845.3,90.0 L850.2,90.0 L234.2,326.9Z" fill="#6d7165"/><path d="M232.0,325.9 L846.3,90.0 L851.2,90.0 L234.7,327.1Z" fill="#686c60"/><path d="M232.6,326.2 L847.3,90.0 L852.2,90.0 L235.2,327.3Z" fill="#63675b"/><path d="M233.1,326.4 L848.3,90.0 L853.1,90.0 L235.8,327.6Z" fill="#5d6155"/><path d="M233.6,326.6 L849.2,90.0 L854.1,90.0 L236.3,327.8Z" fill="#585c50"/><path d="M234.2,326.9 L850.2,90.0 L855.1,90.0 L236.8,328.0Z" fill="#53574b"/><path d="M234.7,327.1 L851.2,90.0 L856.1,90.0 L237.3,328.2Z" fill="#4e5246"/><path d="M235.2,327.3 L852.2,90.0 L857.0,90.0 L237.9,328.5Z" fill="#4a4e42"/><path d="M235.8,327.6 L853.1,90.0 L858.0,90.0 L238.4,328.7Z" fill="#464a3e"/><path d="M236.3,327.8 L854.1,90.0 L859.0,90.0 L238.9,328.9Z" fill="#42463a"/><path d="M236.8,328.0 L855.1,90.0 L860.0,90.0 L239.5,329.2Z" fill="#3e4236"/><path d="M237.3,328.2 L856.1,90.0 L860.9,90.0 L240.0,329.4Z" fill="#3a3e32"/><path d="M237.9,328.5 L857.0,90.0 L861.9,90.0 L240.5,329.6Z" fill="#363a2e"/><path d="M238.4,328.7 L858.0,90.0 L863.9,90.0 L241.6,330.1Z" fill="#32362a"/><path d="M239.5,329.2 L860.0,90.0 L865.8,90.0 L242.7,330.5Z" fill="#2d3225"/><path d="M240.5,329.6 L861.9,90.0 L867.8,90.0 L243.7,331.0Z" fill="#292d21"/><path d="M241.6,330.1 L863.9,90.0 L869.7,90.0 L244.8,331.5Z" fill="#24291c"/><path d="M242.7,330.5 L865.8,90.0 L897.8,90.0 L260.2,338.2Z" fill="#22271a"/><path d="M258.1,337.2 L893.9,90.0 L899.7,90.0 L261.2,338.6Z" fill="#282c20"/><path d="M259.1,337.7 L895.9,90.0 L901.7,90.0 L262.3,339.1Z" fill="#2b3024"/><path d="M260.2,338.2 L897.8,90.0 L903.6,90.0 L263.4,339.5Z" fill="#2f3428"/><path d="M261.2,338.6 L899.7,90.0 L905.5,90.0 L264.4,340.0Z" fill="#33372b"/><path d="M262.3,339.1 L901.7,90.0 L907.4,90.0 L265.5,340.5Z" fill="#373b2f"/><path d="M263.4,339.5 L903.6,90.0 L909.4,90.0 L266.6,340.9Z" fill="#3a3e33"/><path d="M264.4,340.0 L905.5,90.0 L911.3,90.0 L267.6,341.4Z" fill="#3e4237"/><path d="M265.5,340.5 L907.4,90.0 L913.2,90.0 L268.7,341.8Z" fill="#42463b"/><path d="M266.6,340.9 L909.4,90.0 L915.1,90.0 L269.7,342.3Z" fill="#474b3f"/><path d="M267.6,341.4 L911.3,90.0 L917.0,90.0 L270.8,342.8Z" fill="#4b4f44"/><path d="M268.7,341.8 L913.2,90.0 L919.0,90.0 L271.9,343.2Z" fill="#4f5348"/><path d="M269.7,342.3 L915.1,90.0 L920.9,90.0 L272.9,343.7Z" fill="#54584c"/><path d="M270.8,342.8 L917.0,90.0 L922.8,90.0 L274.0,344.1Z" fill="#585c50"/><path d="M271.9,343.2 L919.0,90.0 L924.7,90.0 L275.0,344.6Z" fill="#5d6155"/><path d="M272.9,343.7 L920.9,90.0 L926.6,90.0 L276.1,345.1Z" fill="#616559"/><path d="M274.0,344.1 L922.8,90.0 L929.5,90.0 L277.7,345.8Z" fill="#64685c"/><path d="M275.6,344.8 L925.7,90.0 L932.4,90.0 L279.3,346.4Z" fill="#616559"/><path d="M277.2,345.5 L928.5,90.0 L933.3,90.0 L279.8,346.7Z" fill="#666a5e"/><path d="M277.7,345.8 L929.5,90.0 L934.3,90.0 L280.4,346.9Z" fill="#6a6e62"/><path d="M278.2,346.0 L930.5,90.0 L935.2,90.0 L280.9,347.1Z" fill="#72766a"/><path d="M278.8,346.2 L931.4,90.0 L936.2,90.0 L281.4,347.4Z" fill="#7d8175"/><path d="M279.3,346.4 L932.4,90.0 L937.1,90.0 L282.0,347.6Z" fill="#888c80"/><path d="M279.8,346.7 L933.3,90.0 L938.1,90.0 L282.5,347.8Z" fill="#8e9286"/><path d="M280.4,346.9 L934.3,90.0 L939.1,90.0 L283.0,348.1Z" fill="#93978c"/><path d="M280.9,347.1 L935.2,90.0 L940.1,90.0 L283.7,348.3Z" fill="#94988d"/><path d="M281.4,347.4 L936.2,90.0 L941.0,90.0 L284.2,348.5Z" fill="#91958a"/><path d="M282.0,347.6 L937.2,90.0 L942.0,90.0 L284.8,348.7Z" fill="#8e9287"/><path d="M282.6,347.8 L938.1,90.0 L943.0,90.0 L285.4,348.9Z" fill="#888c81"/><path d="M283.1,348.0 L939.1,90.0 L943.9,90.0 L285.9,349.2Z" fill="#82867a"/><path d="M283.7,348.3 L940.1,90.0 L944.9,90.0 L286.5,349.4Z" fill="#7a7e73"/><path d="M284.2,348.5 L941.0,90.0 L945.8,90.0 L287.0,349.6Z" fill="#74786c"/><path d="M284.8,348.7 L942.0,90.0 L946.8,90.0 L287.6,349.8Z" fill="#6d7165"/><path d="M285.4,348.9 L943.0,90.0 L947.8,90.0 L288.1,350.1Z" fill="#686c60"/><path d="M285.9,349.2 L943.9,90.0 L948.7,90.0 L288.7,350.3Z" fill="#63675b"/><path d="M286.5,349.4 L944.9,90.0 L949.7,90.0 L289.3,350.5Z" fill="#5d6155"/><path d="M287.0,349.6 L945.8,90.0 L950.7,90.0 L289.8,350.7Z" fill="#585c50"/><path d="M287.6,349.8 L946.8,90.0 L951.6,90.0 L290.4,350.9Z" fill="#53574b"/><path d="M288.1,350.1 L947.8,90.0 L952.6,90.0 L290.9,351.2Z" fill="#4e5246"/><path d="M288.7,350.3 L948.7,90.0 L953.5,90.0 L291.5,351.4Z" fill="#4a4e42"/><path d="M289.3,350.5 L949.7,90.0 L954.5,90.0 L292.1,351.6Z" fill="#464a3e"/><path d="M289.8,350.7 L950.7,90.0 L955.5,90.0 L292.6,351.8Z" fill="#42463a"/><path d="M290.4,350.9 L951.6,90.0 L956.4,90.0 L293.2,352.1Z" fill="#3e4236"/><path d="M290.9,351.2 L952.6,90.0 L957.4,90.0 L293.7,352.3Z" fill="#3a3e32"/><path d="M291.5,351.4 L953.5,90.0 L958.3,90.0 L294.3,352.5Z" fill="#363a2e"/><path d="M292.1,351.6 L954.5,90.0 L960.3,90.0 L295.4,353.0Z" fill="#32362a"/><path d="M293.2,352.1 L956.4,90.0 L962.2,90.0 L296.5,353.4Z" fill="#2d3225"/><path d="M294.3,352.5 L958.3,90.0 L964.1,90.0 L297.6,353.9Z" fill="#292d21"/><path d="M295.4,353.0 L960.3,90.0 L966.0,90.0 L298.7,354.3Z" fill="#24291c"/><path d="M296.5,353.4 L962.2,90.0 L993.7,90.0 L314.9,360.8Z" fill="#22271a"/><path d="M312.7,359.9 L989.9,90.0 L995.6,90.0 L316.0,361.3Z" fill="#282c20"/><path d="M313.8,360.4 L991.8,90.0 L997.5,90.0 L317.2,361.7Z" fill="#2b3024"/><path d="M314.9,360.8 L993.7,90.0 L999.4,90.0 L318.3,362.2Z" fill="#2f3428"/><path d="M316.0,361.3 L995.6,90.0 L1001.3,90.0 L319.4,362.6Z" fill="#33372b"/><path d="M317.2,361.7 L997.5,90.0 L1003.2,90.0 L320.5,363.1Z" fill="#373b2f"/><path d="M318.3,362.2 L999.4,90.0 L1005.1,90.0 L321.6,363.5Z" fill="#3a3e33"/><path d="M319.4,362.6 L1001.3,90.0 L1007.0,90.0 L322.7,364.0Z" fill="#3e4237"/><path d="M320.5,363.1 L1003.2,90.0 L1008.8,90.0 L323.9,364.4Z" fill="#42463b"/><path d="M321.6,363.5 L1005.1,90.0 L1010.7,90.0 L325.0,364.9Z" fill="#474b3f"/><path d="M322.7,364.0 L1007.0,90.0 L1012.6,90.0 L326.1,365.3Z" fill="#4b4f44"/><path d="M323.9,364.4 L1008.8,90.0 L1014.5,90.0 L327.2,365.8Z" fill="#4f5348"/><path d="M325.0,364.9 L1010.7,90.0 L1016.4,90.0 L328.3,366.2Z" fill="#54584c"/><path d="M326.1,365.3 L1012.6,90.0 L1018.3,90.0 L329.4,366.7Z" fill="#585c50"/><path d="M327.2,365.8 L1014.5,90.0 L1020.2,90.0 L330.6,367.1Z" fill="#5d6155"/><path d="M328.3,366.2 L1016.4,90.0 L1022.1,90.0 L331.7,367.6Z" fill="#616559"/><path d="M329.4,366.7 L1018.3,90.0 L1024.9,90.0 L333.3,368.2Z" fill="#64685c"/><path d="M331.1,367.3 L1021.1,90.0 L1027.7,90.0 L335.0,368.9Z" fill="#616559"/><path d="M332.8,368.0 L1024.0,90.0 L1028.7,90.0 L335.6,369.1Z" fill="#666a5e"/><path d="M333.3,368.2 L1024.9,90.0 L1029.6,90.0 L336.1,369.3Z" fill="#6a6e62"/><path d="M333.9,368.5 L1025.9,90.0 L1030.6,90.0 L336.7,369.6Z" fill="#72766a"/><path d="M334.5,368.7 L1026.8,90.0 L1031.5,90.0 L337.3,369.8Z" fill="#7d8175"/><path d="M335.0,368.9 L1027.7,90.0 L1032.4,90.0 L337.8,370.0Z" fill="#888c80"/><path d="M335.6,369.1 L1028.7,90.0 L1033.4,90.0 L338.4,370.2Z" fill="#8e9286"/><path d="M336.1,369.3 L1029.6,90.0 L1034.3,90.0 L338.9,370.5Z" fill="#93978c"/><path d="M336.7,369.6 L1030.6,90.0 L1035.2,90.0 L339.3,370.7Z" fill="#94988d"/><path d="M337.2,369.8 L1031.5,90.0 L1036.1,90.0 L339.8,371.0Z" fill="#91958a"/><path d="M337.7,370.0 L1032.4,90.0 L1037.0,90.0 L340.4,371.2Z" fill="#8e9287"/><path d="M338.3,370.3 L1033.3,90.0 L1037.9,90.0 L340.9,371.4Z" fill="#888c81"/><path d="M338.8,370.5 L1034.3,90.0 L1038.9,90.0 L341.4,371.6Z" fill="#82867a"/><path d="M339.3,370.7 L1035.2,90.0 L1039.8,90.0 L341.9,371.9Z" fill="#7a7e73"/><path d="M339.8,371.0 L1036.1,90.0 L1040.7,90.0 L342.5,372.1Z" fill="#74786c"/><path d="M340.4,371.2 L1037.0,90.0 L1041.6,90.0 L343.0,372.3Z" fill="#6d7165"/><path d="M340.9,371.4 L1037.9,90.0 L1042.6,90.0 L343.5,372.6Z" fill="#686c60"/><path d="M341.4,371.6 L1038.9,90.0 L1043.5,90.0 L344.0,372.8Z" fill="#63675b"/><path d="M341.9,371.9 L1039.8,90.0 L1044.4,90.0 L344.6,373.0Z" fill="#5d6155"/><path d="M342.5,372.1 L1040.7,90.0 L1045.3,90.0 L345.1,373.2Z" fill="#585c50"/><path d="M343.0,372.3 L1041.6,90.0 L1046.2,90.0 L345.6,373.5Z" fill="#53574b"/><path d="M343.5,372.6 L1042.6,90.0 L1047.2,90.0 L346.1,373.7Z" fill="#4e5246"/><path d="M344.0,372.8 L1043.5,90.0 L1048.1,90.0 L346.7,373.9Z" fill="#4a4e42"/><path d="M344.6,373.0 L1044.4,90.0 L1049.0,90.0 L347.2,374.2Z" fill="#464a3e"/><path d="M345.1,373.2 L1045.3,90.0 L1049.9,90.0 L347.7,374.4Z" fill="#42463a"/><path d="M345.6,373.5 L1046.2,90.0 L1050.8,90.0 L348.2,374.6Z" fill="#3e4236"/><path d="M346.1,373.7 L1047.2,90.0 L1051.8,90.0 L348.8,374.9Z" fill="#3a3e32"/><path d="M346.7,373.9 L1048.1,90.0 L1052.7,90.0 L349.3,375.1Z" fill="#363a2e"/><path d="M347.2,374.2 L1049.0,90.0 L1054.5,90.0 L350.4,375.5Z" fill="#32362a"/><path d="M348.2,374.6 L1050.8,90.0 L1056.4,90.0 L351.4,376.0Z" fill="#2d3225"/><path d="M349.3,375.1 L1052.7,90.0 L1058.2,90.0 L352.5,376.5Z" fill="#292d21"/><path d="M350.4,375.5 L1054.5,90.0 L1060.0,90.0 L353.5,376.9Z" fill="#24291c"/><path d="M351.4,376.0 L1056.4,90.0 L1086.5,90.0 L368.7,383.6Z" fill="#22271a"/><path d="M366.6,382.7 L1082.9,90.0 L1088.3,90.0 L369.8,384.0Z" fill="#282c20"/><path d="M367.7,383.1 L1084.7,90.0 L1090.1,90.0 L370.8,384.5Z" fill="#2b3024"/><path d="M368.7,383.6 L1086.5,90.0 L1092.0,90.0 L371.9,385.0Z" fill="#2f3428"/><path d="M369.8,384.0 L1088.3,90.0 L1093.8,90.0 L372.9,385.4Z" fill="#33372b"/><path d="M370.8,384.5 L1090.1,90.0 L1095.6,90.0 L374.0,385.9Z" fill="#373b2f"/><path d="M371.9,385.0 L1092.0,90.0 L1097.4,90.0 L375.0,386.3Z" fill="#3a3e33"/><path d="M372.9,385.4 L1093.8,90.0 L1099.2,90.0 L376.1,386.8Z" fill="#3e4237"/><path d="M374.0,385.9 L1095.6,90.0 L1101.0,90.0 L377.1,387.3Z" fill="#42463b"/><path d="M375.0,386.3 L1097.4,90.0 L1102.9,90.0 L378.2,387.7Z" fill="#474b3f"/><path d="M376.1,386.8 L1099.2,90.0 L1104.7,90.0 L379.2,388.2Z" fill="#4b4f44"/><path d="M377.1,387.3 L1101.0,90.0 L1106.5,90.0 L380.3,388.6Z" fill="#4f5348"/><path d="M378.2,387.7 L1102.9,90.0 L1108.3,90.0 L381.3,389.1Z" fill="#54584c"/><path d="M379.2,388.2 L1104.7,90.0 L1110.1,90.0 L382.4,389.5Z" fill="#585c50"/><path d="M380.3,388.6 L1106.5,90.0 L1111.9,90.0 L383.4,390.0Z" fill="#5d6155"/><path d="M381.3,389.1 L1108.3,90.0 L1113.7,90.0 L384.5,390.5Z" fill="#616559"/><path d="M382.4,389.5 L1110.1,90.0 L1116.4,90.0 L386.1,391.2Z" fill="#64685c"/><path d="M384.0,390.2 L1112.8,90.0 L1119.1,90.0 L387.6,391.8Z" fill="#616559"/><path d="M385.5,390.9 L1115.5,90.0 L1120.0,90.0 L388.2,392.1Z" fill="#666a5e"/><path d="M386.1,391.2 L1116.4,90.0 L1120.9,90.0 L388.7,392.3Z" fill="#6a6e62"/><path d="M386.6,391.4 L1117.3,90.0 L1121.8,90.0 L389.2,392.5Z" fill="#72766a"/><path d="M387.1,391.6 L1118.2,90.0 L1122.7,90.0 L389.7,392.8Z" fill="#7d8175"/><path d="M387.6,391.8 L1119.1,90.0 L1123.6,90.0 L390.3,393.0Z" fill="#888c80"/><path d="M388.2,392.1 L1120.0,90.0 L1124.5,90.0 L390.8,393.2Z" fill="#8e9286"/><path d="M388.7,392.3 L1120.9,90.0 L1125.4,90.0 L391.3,393.5Z" fill="#93978c"/><path d="M389.2,392.5 L1121.8,90.0 L1126.8,90.0 L392.2,393.8Z" fill="#94988d"/><path d="M389.8,392.8 L1122.8,90.0 L1127.8,90.0 L392.8,394.0Z" fill="#91958a"/><path d="M390.4,393.0 L1123.8,90.0 L1128.7,90.0 L393.3,394.2Z" fill="#8e9287"/><path d="M391.0,393.3 L1124.8,90.0 L1129.7,90.0 L393.9,394.5Z" fill="#888c81"/><path d="M391.6,393.5 L1125.8,90.0 L1130.7,90.0 L394.5,394.7Z" fill="#82867a"/><path d="M392.2,393.8 L1126.8,90.0 L1131.7,90.0 L395.1,395.0Z" fill="#7a7e73"/><path d="M392.8,394.0 L1127.8,90.0 L1132.7,90.0 L395.7,395.2Z" fill="#74786c"/><path d="M393.3,394.2 L1128.7,90.0 L1133.7,90.0 L396.3,395.5Z" fill="#6d7165"/><path d="M393.9,394.5 L1129.7,90.0 L1134.6,90.0 L396.9,395.7Z" fill="#686c60"/><path d="M394.5,394.7 L1130.7,90.0 L1135.6,90.0 L397.5,396.0Z" fill="#63675b"/><path d="M395.1,395.0 L1131.7,90.0 L1136.6,90.0 L398.1,396.2Z" fill="#5d6155"/><path d="M395.7,395.2 L1132.7,90.0 L1137.6,90.0 L398.7,396.5Z" fill="#585c50"/><path d="M396.3,395.5 L1133.7,90.0 L1138.6,90.0 L399.3,396.7Z" fill="#53574b"/><path d="M396.9,395.7 L1134.6,90.0 L1139.6,90.0 L399.8,396.9Z" fill="#4e5246"/><path d="M397.5,396.0 L1135.6,90.0 L1140.5,90.0 L400.4,397.2Z" fill="#4a4e42"/><path d="M398.1,396.2 L1136.6,90.0 L1141.5,90.0 L401.0,397.4Z" fill="#464a3e"/><path d="M398.7,396.5 L1137.6,90.0 L1142.5,90.0 L401.6,397.7Z" fill="#42463a"/><path d="M399.3,396.7 L1138.6,90.0 L1143.5,90.0 L402.2,397.9Z" fill="#3e4236"/><path d="M399.8,396.9 L1139.6,90.0 L1144.5,90.0 L402.8,398.2Z" fill="#3a3e32"/><path d="M400.4,397.2 L1140.5,90.0 L1145.5,90.0 L403.4,398.4Z" fill="#363a2e"/><path d="M401.0,397.4 L1141.5,90.0 L1147.4,90.0 L404.6,398.9Z" fill="#32362a"/><path d="M402.2,397.9 L1143.5,90.0 L1149.4,90.0 L405.8,399.4Z" fill="#2d3225"/><path d="M403.4,398.4 L1145.5,90.0 L1151.3,90.0 L406.9,399.9Z" fill="#292d21"/><path d="M404.6,398.9 L1147.4,90.0 L1153.3,90.0 L408.1,400.4Z" fill="#24291c"/><path d="M405.8,399.4 L1149.4,90.0 L1181.6,90.0 L425.3,407.5Z" fill="#22271a"/><path d="M422.9,406.5 L1177.7,90.0 L1183.5,90.0 L426.4,408.0Z" fill="#282c20"/><path d="M424.1,407.0 L1179.6,90.0 L1185.5,90.0 L427.6,408.5Z" fill="#2b3024"/><path d="M425.3,407.5 L1181.6,90.0 L1187.4,90.0 L428.8,409.0Z" fill="#2f3428"/><path d="M426.4,408.0 L1183.5,90.0 L1189.3,90.0 L430.0,409.4Z" fill="#33372b"/><path d="M427.6,408.5 L1185.5,90.0 L1191.3,90.0 L431.2,409.9Z" fill="#373b2f"/><path d="M428.8,409.0 L1187.4,90.0 L1193.2,90.0 L432.3,410.4Z" fill="#3a3e33"/><path d="M430.0,409.4 L1189.3,90.0 L1195.1,90.0 L433.5,410.9Z" fill="#3e4237"/><path d="M431.2,409.9 L1191.3,90.0 L1197.1,90.0 L434.7,411.4Z" fill="#42463b"/><path d="M432.3,410.4 L1193.2,90.0 L1199.0,90.0 L435.9,411.9Z" fill="#474b3f"/><path d="M433.5,410.9 L1195.1,90.0 L1200.9,90.0 L437.1,412.4Z" fill="#4b4f44"/><path d="M434.7,411.4 L1197.1,90.0 L1202.9,90.0 L438.3,412.9Z" fill="#4f5348"/><path d="M435.9,411.9 L1199.0,90.0 L1204.8,90.0 L439.4,413.4Z" fill="#54584c"/><path d="M437.1,412.4 L1200.9,90.0 L1206.7,90.0 L440.6,413.9Z" fill="#585c50"/><path d="M438.3,412.9 L1202.9,90.0 L1208.7,90.0 L441.8,414.4Z" fill="#5d6155"/><path d="M439.4,413.4 L1204.8,90.0 L1210.6,90.0 L443.0,414.8Z" fill="#616559"/><path d="M440.6,413.9 L1206.7,90.0 L1213.5,90.0 L444.8,415.6Z" fill="#64685c"/><path d="M442.4,414.6 L1209.6,90.0 L1216.4,90.0 L446.5,416.3Z" fill="#616559"/><path d="M444.2,415.3 L1212.5,90.0 L1217.3,90.0 L447.1,416.6Z" fill="#666a5e"/><path d="M444.8,415.6 L1213.5,90.0 L1218.3,90.0 L447.7,416.8Z" fill="#6a6e62"/><path d="M445.3,415.8 L1214.4,90.0 L1219.3,90.0 L448.3,417.0Z" fill="#72766a"/><path d="M445.9,416.1 L1215.4,90.0 L1220.2,90.0 L448.9,417.3Z" fill="#7d8175"/><path d="M446.5,416.3 L1216.4,90.0 L1221.2,90.0 L449.5,417.5Z" fill="#888c80"/><path d="M447.1,416.6 L1217.3,90.0 L1222.1,90.0 L450.1,417.8Z" fill="#8e9286"/><path d="M447.7,416.8 L1218.3,90.0 L1223.1,90.0 L450.7,418.0Z" fill="#93978c"/><path d="M448.3,417.0 L1219.3,90.0 L1223.7,90.0 L451.1,418.1Z" fill="#94988d"/><path d="M448.9,417.3 L1220.1,90.0 L1224.5,90.0 L451.6,418.4Z" fill="#91958a"/><path d="M449.4,417.5 L1221.0,90.0 L1225.4,90.0 L452.2,418.6Z" fill="#8e9287"/><path d="M450.0,417.7 L1221.9,90.0 L1226.3,90.0 L452.7,418.8Z" fill="#888c81"/><path d="M450.5,417.9 L1222.8,90.0 L1227.2,90.0 L453.3,419.0Z" fill="#82867a"/><path d="M451.1,418.1 L1223.7,90.0 L1228.0,90.0 L453.9,419.2Z" fill="#7a7e73"/><path d="M451.6,418.4 L1224.5,90.0 L1228.9,90.0 L454.4,419.4Z" fill="#74786c"/><path d="M452.2,418.6 L1225.4,90.0 L1229.8,90.0 L455.0,419.7Z" fill="#6d7165"/><path d="M452.7,418.8 L1226.3,90.0 L1230.7,90.0 L455.5,419.9Z" fill="#686c60"/><path d="M453.3,419.0 L1227.2,90.0 L1231.6,90.0 L456.1,420.1Z" fill="#63675b"/><path d="M453.9,419.2 L1228.0,90.0 L1232.4,90.0 L456.6,420.3Z" fill="#5d6155"/><path d="M454.4,419.4 L1228.9,90.0 L1233.3,90.0 L457.2,420.5Z" fill="#585c50"/><path d="M455.0,419.7 L1229.8,90.0 L1234.2,90.0 L457.7,420.8Z" fill="#53574b"/><path d="M455.5,419.9 L1230.7,90.0 L1235.1,90.0 L458.3,421.0Z" fill="#4e5246"/><path d="M456.1,420.1 L1231.6,90.0 L1235.9,90.0 L458.9,421.2Z" fill="#4a4e42"/><path d="M456.6,420.3 L1232.4,90.0 L1236.8,90.0 L459.4,421.4Z" fill="#464a3e"/><path d="M457.2,420.5 L1233.3,90.0 L1237.7,90.0 L460.0,421.6Z" fill="#42463a"/><path d="M457.7,420.8 L1234.2,90.0 L1238.6,90.0 L460.5,421.8Z" fill="#3e4236"/><path d="M458.3,421.0 L1235.1,90.0 L1239.4,90.0 L461.1,422.1Z" fill="#3a3e32"/><path d="M458.9,421.2 L1235.9,90.0 L1240.3,90.0 L461.6,422.3Z" fill="#363a2e"/><path d="M459.4,421.4 L1236.8,90.0 L1242.1,90.0 L462.7,422.7Z" fill="#32362a"/><path d="M460.5,421.8 L1238.6,90.0 L1243.8,90.0 L463.8,423.2Z" fill="#2d3225"/><path d="M461.6,422.3 L1240.3,90.0 L1245.6,90.0 L465.0,423.6Z" fill="#292d21"/><path d="M462.7,422.7 L1242.1,90.0 L1247.3,90.0 L466.1,424.0Z" fill="#24291c"/><path d="M463.8,423.2 L1243.8,90.0 L1272.5,90.0 L482.2,430.4Z" fill="#22271a"/><path d="M480.0,429.5 L1269.1,90.0 L1274.3,90.0 L483.3,430.8Z" fill="#282c20"/><path d="M481.1,429.9 L1270.8,90.0 L1276.0,90.0 L484.4,431.2Z" fill="#2b3024"/><path d="M482.2,430.4 L1272.5,90.0 L1277.7,90.0 L485.5,431.7Z" fill="#2f3428"/><path d="M483.3,430.8 L1274.3,90.0 L1279.5,90.0 L486.6,432.1Z" fill="#33372b"/><path d="M484.4,431.2 L1276.0,90.0 L1281.2,90.0 L487.7,432.5Z" fill="#373b2f"/><path d="M485.5,431.7 L1277.7,90.0 L1282.9,90.0 L488.8,433.0Z" fill="#3a3e33"/><path d="M486.6,432.1 L1279.5,90.0 L1284.6,90.0 L489.9,433.4Z" fill="#3e4237"/><path d="M487.7,432.5 L1281.2,90.0 L1286.4,90.0 L491.1,433.8Z" fill="#42463b"/><path d="M488.8,433.0 L1282.9,90.0 L1288.1,90.0 L492.2,434.3Z" fill="#474b3f"/><path d="M489.9,433.4 L1284.6,90.0 L1289.8,90.0 L493.3,434.7Z" fill="#4b4f44"/><path d="M491.1,433.8 L1286.4,90.0 L1291.6,90.0 L494.4,435.1Z" fill="#4f5348"/><path d="M492.2,434.3 L1288.1,90.0 L1293.3,90.0 L495.5,435.6Z" fill="#54584c"/><path d="M493.3,434.7 L1289.8,90.0 L1295.0,90.0 L496.6,436.0Z" fill="#585c50"/><path d="M494.4,435.1 L1291.6,90.0 L1296.7,90.0 L497.7,436.5Z" fill="#5d6155"/><path d="M495.5,435.6 L1293.3,90.0 L1298.5,90.0 L498.8,436.9Z" fill="#616559"/><path d="M496.6,436.0 L1295.0,90.0 L1301.0,90.0 L500.5,437.5Z" fill="#64685c"/><path d="M498.3,436.7 L1297.6,90.0 L1303.6,90.0 L502.2,438.2Z" fill="#616559"/><path d="M499.9,437.3 L1300.2,90.0 L1304.5,90.0 L502.7,438.4Z" fill="#666a5e"/><path d="M500.5,437.5 L1301.0,90.0 L1305.3,90.0 L503.3,438.6Z" fill="#6a6e62"/><path d="M501.1,437.8 L1301.9,90.0 L1306.2,90.0 L503.8,438.9Z" fill="#72766a"/><path d="M501.6,438.0 L1302.8,90.0 L1307.1,90.0 L504.4,439.1Z" fill="#7d8175"/><path d="M502.2,438.2 L1303.6,90.0 L1307.9,90.0 L504.9,439.3Z" fill="#888c80"/><path d="M502.7,438.4 L1304.5,90.0 L1308.8,90.0 L505.5,439.5Z" fill="#8e9286"/><path d="M503.3,438.6 L1305.3,90.0 L1309.6,90.0 L506.1,439.7Z" fill="#93978c"/><path d="M503.8,438.9 L1306.2,90.0 L1310.6,90.0 L506.7,440.0Z" fill="#94988d"/><path d="M504.4,439.1 L1307.1,90.0 L1311.4,90.0 L507.3,440.2Z" fill="#91958a"/><path d="M505.0,439.3 L1307.9,90.0 L1312.3,90.0 L507.8,440.4Z" fill="#8e9287"/><path d="M505.5,439.5 L1308.8,90.0 L1313.2,90.0 L508.4,440.6Z" fill="#888c81"/><path d="M506.1,439.7 L1309.7,90.0 L1314.0,90.0 L509.0,440.8Z" fill="#82867a"/><path d="M506.7,440.0 L1310.6,90.0 L1314.9,90.0 L509.5,441.0Z" fill="#7a7e73"/><path d="M507.3,440.2 L1311.4,90.0 L1315.8,90.0 L510.1,441.3Z" fill="#74786c"/><path d="M507.8,440.4 L1312.3,90.0 L1316.7,90.0 L510.7,441.5Z" fill="#6d7165"/><path d="M508.4,440.6 L1313.2,90.0 L1317.5,90.0 L511.3,441.7Z" fill="#686c60"/><path d="M509.0,440.8 L1314.0,90.0 L1318.4,90.0 L511.8,441.9Z" fill="#63675b"/><path d="M509.5,441.0 L1314.9,90.0 L1319.3,90.0 L512.4,442.1Z" fill="#5d6155"/><path d="M510.1,441.3 L1315.8,90.0 L1320.1,90.0 L513.0,442.4Z" fill="#585c50"/><path d="M510.7,441.5 L1316.7,90.0 L1321.0,90.0 L513.5,442.6Z" fill="#53574b"/><path d="M511.3,441.7 L1317.5,90.0 L1321.9,90.0 L514.1,442.8Z" fill="#4e5246"/><path d="M511.8,441.9 L1318.4,90.0 L1322.8,90.0 L514.7,443.0Z" fill="#4a4e42"/><path d="M512.4,442.1 L1319.3,90.0 L1323.6,90.0 L515.3,443.2Z" fill="#464a3e"/><path d="M513.0,442.4 L1320.1,90.0 L1324.5,90.0 L515.8,443.5Z" fill="#42463a"/><path d="M513.5,442.6 L1321.0,90.0 L1325.4,90.0 L516.4,443.7Z" fill="#3e4236"/><path d="M514.1,442.8 L1321.9,90.0 L1326.2,90.0 L517.0,443.9Z" fill="#3a3e32"/><path d="M514.7,443.0 L1322.8,90.0 L1327.1,90.0 L517.5,444.1Z" fill="#363a2e"/><path d="M515.3,443.2 L1323.6,90.0 L1328.8,90.0 L518.7,444.6Z" fill="#32362a"/><path d="M516.4,443.7 L1325.4,90.0 L1330.6,90.0 L519.8,445.0Z" fill="#2d3225"/><path d="M517.5,444.1 L1327.1,90.0 L1332.3,90.0 L521.0,445.4Z" fill="#292d21"/><path d="M518.7,444.6 L1328.8,90.0 L1334.0,90.0 L522.1,445.9Z" fill="#24291c"/><path d="M519.8,445.0 L1330.6,90.0 L1359.1,90.0 L538.7,452.2Z" fill="#22271a"/><path d="M536.4,451.3 L1355.7,90.0 L1360.8,90.0 L539.8,452.7Z" fill="#282c20"/><path d="M537.5,451.8 L1357.4,90.0 L1362.6,90.0 L541.0,453.1Z" fill="#2b3024"/><path d="M538.7,452.2 L1359.1,90.0 L1364.3,90.0 L542.1,453.5Z" fill="#2f3428"/><path d="M539.8,452.7 L1360.8,90.0 L1366.0,90.0 L543.2,454.0Z" fill="#33372b"/><path d="M541.0,453.1 L1362.6,90.0 L1367.7,90.0 L544.4,454.4Z" fill="#373b2f"/><path d="M542.1,453.5 L1364.3,90.0 L1369.4,90.0 L545.5,454.9Z" fill="#3a3e33"/><path d="M543.2,454.0 L1366.0,90.0 L1371.2,90.0 L546.7,455.3Z" fill="#3e4237"/><path d="M544.4,454.4 L1367.7,90.0 L1372.9,90.0 L547.8,455.7Z" fill="#42463b"/><path d="M545.5,454.9 L1369.4,90.0 L1374.6,90.0 L549.0,456.2Z" fill="#474b3f"/><path d="M546.7,455.3 L1371.2,90.0 L1376.3,90.0 L550.1,456.6Z" fill="#4b4f44"/><path d="M547.8,455.7 L1372.9,90.0 L1378.0,90.0 L551.2,457.0Z" fill="#4f5348"/><path d="M549.0,456.2 L1374.6,90.0 L1379.7,90.0 L552.4,457.5Z" fill="#54584c"/><path d="M550.1,456.6 L1376.3,90.0 L1381.4,90.0 L553.5,457.9Z" fill="#585c50"/><path d="M551.2,457.0 L1378.0,90.0 L1383.2,90.0 L554.7,458.4Z" fill="#5d6155"/><path d="M552.4,457.5 L1379.7,90.0 L1384.9,90.0 L555.8,458.8Z" fill="#616559"/><path d="M553.5,457.9 L1381.4,90.0 L1387.4,90.0 L557.5,459.5Z" fill="#64685c"/><path d="M555.2,458.6 L1384.0,90.0 L1390.0,90.0 L559.2,460.1Z" fill="#616559"/><path d="M556.9,459.2 L1386.6,90.0 L1390.9,90.0 L559.8,460.3Z" fill="#666a5e"/><path d="M557.5,459.5 L1387.4,90.0 L1391.7,90.0 L560.4,460.5Z" fill="#6a6e62"/><path d="M558.1,459.7 L1388.3,90.0 L1392.6,90.0 L560.9,460.8Z" fill="#72766a"/><path d="M558.7,459.9 L1389.1,90.0 L1393.4,90.0 L561.5,461.0Z" fill="#7d8175"/><path d="M559.2,460.1 L1390.0,90.0 L1394.3,90.0 L562.1,461.2Z" fill="#888c80"/><path d="M559.8,460.3 L1390.9,90.0 L1395.1,90.0 L562.7,461.4Z" fill="#8e9286"/><path d="M560.4,460.5 L1391.7,90.0 L1396.0,90.0 L563.2,461.6Z" fill="#93978c"/><path d="M560.9,460.8 L1392.6,90.0 L1397.5,90.0 L563.9,462.2Z" fill="#94988d"/><path d="M561.5,461.1 L1393.5,90.0 L1398.5,90.0 L564.4,462.5Z" fill="#91958a"/><path d="M562.1,461.3 L1394.5,90.0 L1399.4,90.0 L565.0,462.8Z" fill="#8e9287"/><path d="M562.7,461.6 L1395.5,90.0 L1400.4,90.0 L565.6,463.1Z" fill="#888c81"/><path d="M563.3,461.9 L1396.5,90.0 L1401.4,90.0 L566.2,463.3Z" fill="#82867a"/><path d="M563.9,462.2 L1397.5,90.0 L1402.4,90.0 L566.8,463.6Z" fill="#7a7e73"/><path d="M564.4,462.5 L1398.5,90.0 L1403.4,90.0 L567.3,463.9Z" fill="#74786c"/><path d="M565.0,462.8 L1399.4,90.0 L1404.3,90.0 L567.9,464.2Z" fill="#6d7165"/><path d="M565.6,463.1 L1400.4,90.0 L1405.3,90.0 L568.5,464.5Z" fill="#686c60"/><path d="M566.2,463.3 L1401.4,90.0 L1406.3,90.0 L569.1,464.8Z" fill="#63675b"/><path d="M566.8,463.6 L1402.4,90.0 L1407.3,90.0 L569.7,465.1Z" fill="#5d6155"/><path d="M567.3,463.9 L1403.4,90.0 L1408.3,90.0 L570.2,465.4Z" fill="#585c50"/><path d="M567.9,464.2 L1404.3,90.0 L1409.2,90.0 L570.8,465.6Z" fill="#53574b"/><path d="M568.5,464.5 L1405.3,90.0 L1410.2,90.0 L571.4,465.9Z" fill="#4e5246"/><path d="M569.1,464.8 L1406.3,90.0 L1411.2,90.0 L572.0,466.2Z" fill="#4a4e42"/><path d="M569.7,465.1 L1407.3,90.0 L1412.2,90.0 L572.6,466.5Z" fill="#464a3e"/><path d="M570.2,465.4 L1408.3,90.0 L1413.1,90.0 L573.2,466.8Z" fill="#42463a"/><path d="M570.8,465.6 L1409.2,90.0 L1414.1,90.0 L573.7,467.1Z" fill="#3e4236"/><path d="M571.4,465.9 L1410.2,90.0 L1415.1,90.0 L574.3,467.4Z" fill="#3a3e32"/><path d="M572.0,466.2 L1411.2,90.0 L1416.1,90.0 L574.9,467.6Z" fill="#363a2e"/><path d="M572.6,466.5 L1412.2,90.0 L1418.0,90.0 L576.1,468.2Z" fill="#32362a"/><path d="M573.7,467.1 L1414.1,90.0 L1420.0,90.0 L577.2,468.8Z" fill="#2d3225"/><path d="M574.9,467.6 L1416.1,90.0 L1421.9,90.0 L578.4,469.4Z" fill="#292d21"/><path d="M576.1,468.2 L1418.0,90.0 L1423.9,90.0 L579.6,469.9Z" fill="#24291c"/><path d="M577.2,468.8 L1420.0,90.0 L1452.0,90.0 L596.4,478.2Z" fill="#22271a"/><path d="M594.1,477.1 L1448.1,90.0 L1453.9,90.0 L597.6,478.8Z" fill="#282c20"/><path d="M595.3,477.7 L1450.1,90.0 L1455.9,90.0 L598.7,479.4Z" fill="#2b3024"/><path d="M596.4,478.2 L1452.0,90.0 L1457.8,90.0 L599.9,480.0Z" fill="#2f3428"/><path d="M597.6,478.8 L1453.9,90.0 L1459.7,90.0 L601.1,480.5Z" fill="#33372b"/><path d="M598.7,479.4 L1455.9,90.0 L1461.6,90.0 L602.2,481.1Z" fill="#373b2f"/><path d="M599.9,480.0 L1457.8,90.0 L1463.6,90.0 L603.4,481.7Z" fill="#3a3e33"/><path d="M601.1,480.5 L1459.7,90.0 L1465.5,90.0 L604.6,482.2Z" fill="#3e4237"/><path d="M602.2,481.1 L1461.6,90.0 L1467.4,90.0 L605.7,482.8Z" fill="#42463b"/><path d="M603.4,481.7 L1463.6,90.0 L1469.3,90.0 L606.9,483.4Z" fill="#474b3f"/><path d="M604.6,482.2 L1465.5,90.0 L1471.2,90.0 L608.0,484.0Z" fill="#4b4f44"/><path d="M605.7,482.8 L1467.4,90.0 L1473.2,90.0 L609.2,484.5Z" fill="#4f5348"/><path d="M606.9,483.4 L1469.3,90.0 L1475.1,90.0 L610.4,485.1Z" fill="#54584c"/><path d="M608.0,484.0 L1471.2,90.0 L1477.0,90.0 L611.5,485.7Z" fill="#585c50"/><path d="M609.2,484.5 L1473.2,90.0 L1478.9,90.0 L612.7,486.3Z" fill="#5d6155"/><path d="M610.4,485.1 L1475.1,90.0 L1480.8,90.0 L613.9,486.8Z" fill="#616559"/><path d="M611.5,485.7 L1477.0,90.0 L1483.7,90.0 L615.6,487.7Z" fill="#64685c"/><path d="M613.3,486.5 L1479.9,90.0 L1486.6,90.0 L617.3,488.6Z" fill="#616559"/><path d="M615.0,487.4 L1482.7,90.0 L1487.5,90.0 L617.9,488.8Z" fill="#666a5e"/><path d="M615.6,487.7 L1483.7,90.0 L1488.5,90.0 L618.5,489.1Z" fill="#6a6e62"/><path d="M616.2,488.0 L1484.6,90.0 L1489.4,90.0 L619.1,489.4Z" fill="#72766a"/><path d="M616.8,488.3 L1485.6,90.0 L1490.4,90.0 L619.7,489.7Z" fill="#7d8175"/><path d="M617.3,488.6 L1486.6,90.0 L1491.3,90.0 L620.3,490.0Z" fill="#888c80"/><path d="M617.9,488.8 L1487.5,90.0 L1492.3,90.0 L620.8,490.3Z" fill="#8e9286"/><path d="M618.5,489.1 L1488.5,90.0 L1493.2,90.0 L621.4,490.6Z" fill="#93978c"/><path d="M619.1,489.4 L1489.4,90.0 L1494.3,90.0 L622.2,490.8Z" fill="#94988d"/><path d="M619.7,489.7 L1490.4,90.0 L1495.3,90.0 L622.8,491.1Z" fill="#91958a"/><path d="M620.3,490.0 L1491.4,90.0 L1496.3,90.0 L623.5,491.4Z" fill="#8e9287"/><path d="M621.0,490.3 L1492.4,90.0 L1497.2,90.0 L624.1,491.7Z" fill="#888c81"/><path d="M621.6,490.5 L1493.3,90.0 L1498.2,90.0 L624.7,491.9Z" fill="#82867a"/><path d="M622.2,490.8 L1494.3,90.0 L1499.2,90.0 L625.3,492.2Z" fill="#7a7e73"/><path d="M622.8,491.1 L1495.3,90.0 L1500.2,90.0 L626.0,492.5Z" fill="#74786c"/><path d="M623.5,491.4 L1496.3,90.0 L1501.1,90.0 L626.6,492.8Z" fill="#6d7165"/><path d="M624.1,491.7 L1497.2,90.0 L1502.1,90.0 L627.2,493.1Z" fill="#686c60"/><path d="M624.7,491.9 L1498.2,90.0 L1503.1,90.0 L627.8,493.3Z" fill="#63675b"/><path d="M625.3,492.2 L1499.2,90.0 L1504.1,90.0 L628.5,493.6Z" fill="#5d6155"/><path d="M626.0,492.5 L1500.2,90.0 L1505.0,90.0 L629.1,493.9Z" fill="#585c50"/><path d="M626.6,492.8 L1501.1,90.0 L1506.0,90.0 L629.7,494.2Z" fill="#53574b"/><path d="M627.2,493.1 L1502.1,90.0 L1507.0,90.0 L630.3,494.5Z" fill="#4e5246"/><path d="M627.8,493.3 L1503.1,90.0 L1507.9,90.0 L630.9,494.7Z" fill="#4a4e42"/><path d="M628.5,493.6 L1504.1,90.0 L1508.9,90.0 L631.6,495.0Z" fill="#464a3e"/><path d="M629.1,493.9 L1505.0,90.0 L1509.9,90.0 L632.2,495.3Z" fill="#42463a"/><path d="M629.7,494.2 L1506.0,90.0 L1510.9,90.0 L632.8,495.6Z" fill="#3e4236"/><path d="M630.3,494.5 L1507.0,90.0 L1511.8,90.0 L633.4,495.9Z" fill="#3a3e32"/><path d="M630.9,494.7 L1507.9,90.0 L1512.8,90.0 L634.1,496.1Z" fill="#363a2e"/><path d="M631.6,495.0 L1508.9,90.0 L1514.7,90.0 L635.3,496.7Z" fill="#32362a"/><path d="M632.8,495.6 L1510.9,90.0 L1516.7,90.0 L636.6,497.3Z" fill="#2d3225"/><path d="M634.1,496.1 L1512.8,90.0 L1518.6,90.0 L637.8,497.8Z" fill="#292d21"/><path d="M635.3,496.7 L1514.7,90.0 L1520.6,90.0 L639.1,498.4Z" fill="#24291c"/><path d="M636.6,497.3 L1516.7,90.0 L1548.5,90.0 L657.2,506.5Z" fill="#22271a"/><path d="M654.7,505.4 L1544.7,90.0 L1550.4,90.0 L658.4,507.1Z" fill="#282c20"/><path d="M655.9,506.0 L1546.6,90.0 L1552.4,90.0 L659.7,507.6Z" fill="#2b3024"/><path d="M657.2,506.5 L1548.5,90.0 L1554.3,90.0 L660.9,508.2Z" fill="#2f3428"/><path d="M658.4,507.1 L1550.4,90.0 L1556.2,90.0 L662.2,508.8Z" fill="#33372b"/><path d="M659.7,507.6 L1552.4,90.0 L1558.1,90.0 L663.4,509.3Z" fill="#373b2f"/><path d="M660.9,508.2 L1554.3,90.0 L1560.0,90.0 L664.6,509.9Z" fill="#3a3e33"/><path d="M662.2,508.8 L1556.2,90.0 L1561.9,90.0 L665.9,510.4Z" fill="#3e4237"/><path d="M663.4,509.3 L1558.1,90.0 L1563.9,90.0 L667.1,511.0Z" fill="#42463b"/><path d="M664.6,509.9 L1560.0,90.0 L1565.8,90.0 L668.4,511.6Z" fill="#474b3f"/><path d="M665.9,510.4 L1561.9,90.0 L1567.7,90.0 L669.6,512.1Z" fill="#4b4f44"/><path d="M667.1,511.0 L1563.9,90.0 L1569.6,90.0 L670.9,512.7Z" fill="#4f5348"/><path d="M668.4,511.6 L1565.8,90.0 L1571.5,90.0 L672.1,513.3Z" fill="#54584c"/><path d="M669.6,512.1 L1567.7,90.0 L1573.4,90.0 L673.4,513.8Z" fill="#585c50"/><path d="M670.9,512.7 L1569.6,90.0 L1575.3,90.0 L674.6,514.4Z" fill="#5d6155"/><path d="M672.1,513.3 L1571.5,90.0 L1577.2,90.0 L675.9,514.9Z" fill="#616559"/><path d="M673.4,513.8 L1573.4,90.0 L1580.1,90.0 L677.8,515.8Z" fill="#64685c"/><path d="M675.3,514.7 L1576.3,90.0 L1582.9,90.0 L679.6,516.6Z" fill="#616559"/><path d="M677.1,515.5 L1579.1,90.0 L1583.9,90.0 L680.2,516.9Z" fill="#666a5e"/><path d="M677.8,515.8 L1580.1,90.0 L1584.8,90.0 L680.9,517.2Z" fill="#6a6e62"/><path d="M678.4,516.1 L1581.0,90.0 L1585.8,90.0 L681.5,517.5Z" fill="#72766a"/><path d="M679.0,516.3 L1582.0,90.0 L1586.7,90.0 L682.1,517.7Z" fill="#7d8175"/><path d="M679.6,516.6 L1582.9,90.0 L1587.7,90.0 L682.7,518.0Z" fill="#888c80"/><path d="M680.2,516.9 L1583.9,90.0 L1588.6,90.0 L683.4,518.3Z" fill="#8e9286"/><path d="M680.9,517.2 L1584.8,90.0 L1589.6,90.0 L684.0,518.6Z" fill="#93978c"/><path d="M681.5,517.5 L1585.8,90.0 L1590.7,90.0 L684.8,518.9Z" fill="#94988d"/><path d="M682.2,517.7 L1586.8,90.0 L1591.7,90.0 L685.5,519.2Z" fill="#91958a"/><path d="M682.8,518.0 L1587.7,90.0 L1592.7,90.0 L686.1,519.5Z" fill="#8e9287"/><path d="M683.5,518.3 L1588.7,90.0 L1593.7,90.0 L686.8,519.8Z" fill="#888c81"/><path d="M684.1,518.6 L1589.7,90.0 L1594.7,90.0 L687.5,520.0Z" fill="#82867a"/><path d="M684.8,518.9 L1590.7,90.0 L1595.7,90.0 L688.1,520.3Z" fill="#7a7e73"/><path d="M685.5,519.2 L1591.7,90.0 L1596.7,90.0 L688.8,520.6Z" fill="#74786c"/><path d="M686.1,519.5 L1592.7,90.0 L1597.6,90.0 L689.4,520.9Z" fill="#6d7165"/><path d="M686.8,519.8 L1593.7,90.0 L1598.6,90.0 L690.1,521.2Z" fill="#686c60"/><path d="M687.5,520.0 L1594.7,90.0 L1599.6,90.0 L690.8,521.5Z" fill="#63675b"/><path d="M688.1,520.3 L1595.7,90.0 L1600.6,90.0 L691.4,521.8Z" fill="#5d6155"/><path d="M688.8,520.6 L1596.7,90.0 L1601.6,90.0 L692.1,522.1Z" fill="#585c50"/><path d="M689.4,520.9 L1597.6,90.0 L1602.6,90.0 L692.8,522.4Z" fill="#53574b"/><path d="M690.1,521.2 L1598.6,90.0 L1603.6,90.0 L693.4,522.6Z" fill="#4e5246"/><path d="M690.8,521.5 L1599.6,90.0 L1604.6,90.0 L694.1,522.9Z" fill="#4a4e42"/><path d="M691.4,521.8 L1600.6,90.0 L1605.5,90.0 L694.7,523.2Z" fill="#464a3e"/><path d="M692.1,522.1 L1601.6,90.0 L1606.5,90.0 L695.4,523.5Z" fill="#42463a"/><path d="M692.8,522.4 L1602.6,90.0 L1607.5,90.0 L696.1,523.8Z" fill="#3e4236"/><path d="M693.4,522.6 L1603.6,90.0 L1608.5,90.0 L696.7,524.1Z" fill="#3a3e32"/><path d="M694.1,522.9 L1604.6,90.0 L1609.5,90.0 L697.4,524.4Z" fill="#363a2e"/><path d="M694.7,523.2 L1605.5,90.0 L1611.4,90.0 L698.7,524.9Z" fill="#32362a"/><path d="M696.1,523.8 L1607.5,90.0 L1613.4,90.0 L700.0,525.5Z" fill="#2d3225"/><path d="M697.4,524.4 L1609.5,90.0 L1615.4,90.0 L701.4,526.1Z" fill="#292d21"/><path d="M698.7,524.9 L1611.4,90.0 L1617.3,90.0 L702.7,526.7Z" fill="#24291c"/><path d="M700.0,525.5 L1613.4,90.0 L1645.7,90.0 L721.9,535.0Z" fill="#22271a"/><path d="M719.3,533.9 L1641.8,90.0 L1647.7,90.0 L723.2,535.6Z" fill="#282c20"/><path d="M720.6,534.4 L1643.8,90.0 L1649.6,90.0 L724.6,536.2Z" fill="#2b3024"/><path d="M721.9,535.0 L1645.7,90.0 L1651.6,90.0 L725.9,536.7Z" fill="#2f3428"/><path d="M723.2,535.6 L1647.7,90.0 L1653.5,90.0 L727.2,537.3Z" fill="#33372b"/><path d="M724.6,536.2 L1649.6,90.0 L1655.4,90.0 L728.5,537.9Z" fill="#373b2f"/><path d="M725.9,536.7 L1651.6,90.0 L1657.4,90.0 L729.9,538.5Z" fill="#3a3e33"/><path d="M727.2,537.3 L1653.5,90.0 L1659.3,90.0 L731.2,539.0Z" fill="#3e4237"/><path d="M728.5,537.9 L1655.4,90.0 L1661.3,90.0 L732.5,539.6Z" fill="#42463b"/><path d="M729.9,538.5 L1657.4,90.0 L1663.2,90.0 L733.8,540.2Z" fill="#474b3f"/><path d="M731.2,539.0 L1659.3,90.0 L1665.1,90.0 L735.2,540.8Z" fill="#4b4f44"/><path d="M732.5,539.6 L1661.3,90.0 L1667.1,90.0 L736.5,541.3Z" fill="#4f5348"/><path d="M733.8,540.2 L1663.2,90.0 L1669.0,90.0 L737.8,541.9Z" fill="#54584c"/><path d="M735.2,540.8 L1665.1,90.0 L1670.9,90.0 L739.1,542.5Z" fill="#585c50"/><path d="M736.5,541.3 L1667.1,90.0 L1672.9,90.0 L740.5,543.1Z" fill="#5d6155"/><path d="M737.8,541.9 L1669.0,90.0 L1674.8,90.0 L741.8,543.7Z" fill="#616559"/><path d="M739.1,542.5 L1670.9,90.0 L1677.7,90.0 L743.8,544.5Z" fill="#64685c"/><path d="M741.1,543.4 L1673.8,90.0 L1680.6,90.0 L745.8,545.4Z" fill="#616559"/><path d="M743.1,544.2 L1676.7,90.0 L1681.6,90.0 L746.4,545.7Z" fill="#666a5e"/><path d="M743.8,544.5 L1677.7,90.0 L1682.5,90.0 L747.1,546.0Z" fill="#6a6e62"/><path d="M744.4,544.8 L1678.7,90.0 L1683.5,90.0 L747.8,546.2Z" fill="#72766a"/><path d="M745.1,545.1 L1679.6,90.0 L1684.5,90.0 L748.4,546.5Z" fill="#7d8175"/><path d="M745.8,545.4 L1680.6,90.0 L1685.4,90.0 L749.1,546.8Z" fill="#888c80"/><path d="M746.4,545.7 L1681.6,90.0 L1686.4,90.0 L749.7,547.1Z" fill="#8e9286"/><path d="M747.1,546.0 L1682.5,90.0 L1687.3,90.0 L750.4,547.4Z" fill="#93978c"/><path d="M747.8,546.2 L1683.5,90.0 L1688.1,90.0 L751.0,547.6Z" fill="#94988d"/><path d="M748.4,546.5 L1684.4,90.0 L1689.1,90.0 L751.6,547.9Z" fill="#91958a"/><path d="M749.0,546.8 L1685.3,90.0 L1690.0,90.0 L752.3,548.2Z" fill="#8e9287"/><path d="M749.7,547.1 L1686.3,90.0 L1690.9,90.0 L752.9,548.4Z" fill="#888c81"/><path d="M750.3,547.3 L1687.2,90.0 L1691.8,90.0 L753.5,548.7Z" fill="#82867a"/><path d="M751.0,547.6 L1688.1,90.0 L1692.8,90.0 L754.2,549.0Z" fill="#7a7e73"/><path d="M751.6,547.9 L1689.1,90.0 L1693.7,90.0 L754.8,549.3Z" fill="#74786c"/><path d="M752.3,548.2 L1690.0,90.0 L1694.6,90.0 L755.5,549.5Z" fill="#6d7165"/><path d="M752.9,548.4 L1690.9,90.0 L1695.5,90.0 L756.1,549.8Z" fill="#686c60"/><path d="M753.5,548.7 L1691.8,90.0 L1696.5,90.0 L756.8,550.1Z" fill="#63675b"/><path d="M754.2,549.0 L1692.8,90.0 L1697.4,90.0 L757.4,550.4Z" fill="#5d6155"/><path d="M754.8,549.3 L1693.7,90.0 L1698.3,90.0 L758.1,550.6Z" fill="#585c50"/><path d="M755.5,549.5 L1694.6,90.0 L1699.2,90.0 L758.7,550.9Z" fill="#53574b"/><path d="M756.1,549.8 L1695.5,90.0 L1700.2,90.0 L759.3,551.2Z" fill="#4e5246"/><path d="M756.8,550.1 L1696.5,90.0 L1701.1,90.0 L760.0,551.5Z" fill="#4a4e42"/><path d="M757.4,550.4 L1697.4,90.0 L1702.0,90.0 L760.6,551.7Z" fill="#464a3e"/><path d="M758.1,550.6 L1698.3,90.0 L1702.9,90.0 L761.3,552.0Z" fill="#42463a"/><path d="M758.7,550.9 L1699.2,90.0 L1703.9,90.0 L761.9,552.3Z" fill="#3e4236"/><path d="M759.3,551.2 L1700.2,90.0 L1704.8,90.0 L762.6,552.6Z" fill="#3a3e32"/><path d="M760.0,551.5 L1701.1,90.0 L1705.7,90.0 L763.2,552.9Z" fill="#363a2e"/><path d="M760.6,551.7 L1702.0,90.0 L1707.6,90.0 L764.5,553.4Z" fill="#32362a"/><path d="M761.9,552.3 L1703.9,90.0 L1709.4,90.0 L765.8,554.0Z" fill="#2d3225"/><path d="M763.2,552.9 L1705.7,90.0 L1711.2,90.0 L767.1,554.5Z" fill="#292d21"/><path d="M764.5,553.4 L1707.6,90.0 L1713.1,90.0 L768.4,555.1Z" fill="#24291c"/><path d="M765.8,554.0 L1709.4,90.0 L1739.7,90.0 L787.0,563.0Z" fill="#22271a"/><path d="M784.5,561.9 L1736.0,90.0 L1741.5,90.0 L788.3,563.6Z" fill="#282c20"/><path d="M785.8,562.5 L1737.9,90.0 L1743.3,90.0 L789.6,564.1Z" fill="#2b3024"/><path d="M787.0,563.0 L1739.7,90.0 L1745.2,90.0 L790.9,564.7Z" fill="#2f3428"/><path d="M788.3,563.6 L1741.5,90.0 L1747.0,90.0 L792.2,565.2Z" fill="#33372b"/><path d="M789.6,564.1 L1743.3,90.0 L1748.8,90.0 L793.5,565.8Z" fill="#373b2f"/><path d="M790.9,564.7 L1745.2,90.0 L1750.6,90.0 L794.8,566.3Z" fill="#3a3e33"/><path d="M792.2,565.2 L1747.0,90.0 L1752.5,90.0 L796.1,566.9Z" fill="#3e4237"/><path d="M793.5,565.8 L1748.8,90.0 L1754.3,90.0 L797.4,567.5Z" fill="#42463b"/><path d="M794.8,566.3 L1750.6,90.0 L1756.1,90.0 L798.6,568.0Z" fill="#474b3f"/><path d="M796.1,566.9 L1752.5,90.0 L1757.9,90.0 L799.9,568.6Z" fill="#4b4f44"/><path d="M797.4,567.5 L1754.3,90.0 L1759.7,90.0 L801.2,569.1Z" fill="#4f5348"/><path d="M798.6,568.0 L1756.1,90.0 L1761.6,90.0 L802.5,569.7Z" fill="#54584c"/><path d="M799.9,568.6 L1757.9,90.0 L1763.4,90.0 L803.8,570.2Z" fill="#585c50"/><path d="M801.2,569.1 L1759.7,90.0 L1765.2,90.0 L805.1,570.8Z" fill="#5d6155"/><path d="M802.5,569.7 L1761.6,90.0 L1767.0,90.0 L806.4,571.3Z" fill="#616559"/><path d="M803.8,570.2 L1763.4,90.0 L1769.7,90.0 L808.3,572.1Z" fill="#64685c"/><path d="M805.7,571.0 L1766.1,90.0 L1772.4,90.0 L810.2,573.0Z" fill="#616559"/><path d="M807.7,571.9 L1768.8,90.0 L1773.3,90.0 L810.9,573.2Z" fill="#666a5e"/><path d="M808.3,572.1 L1769.7,90.0 L1774.2,90.0 L811.5,573.5Z" fill="#6a6e62"/><path d="M808.9,572.4 L1770.6,90.0 L1775.1,90.0 L812.2,573.8Z" fill="#72766a"/><path d="M809.6,572.7 L1771.5,90.0 L1776.0,90.0 L812.8,574.1Z" fill="#7d8175"/><path d="M810.2,573.0 L1772.4,90.0 L1776.9,90.0 L813.5,574.3Z" fill="#888c80"/><path d="M810.9,573.2 L1773.3,90.0 L1777.9,90.0 L814.1,574.6Z" fill="#8e9286"/><path d="M811.5,573.5 L1774.2,90.0 L1778.8,90.0 L814.7,574.9Z" fill="#93978c"/></g></g>
<rect x="130" y="95" width="680" height="440" fill="url(#lt)" style="mix-blend-mode:lighten"/>
<rect x="130" y="95" width="680" height="440" fill="url(#lr)"/>
<path d="M110.7,241.9 L592.9,70.4 L601.2,93.9 L119.0,265.4Z" fill="url(#ebg)"/>
<path d="M138.0,237.9 L138.9,237.6 L139.8,237.5 L140.7,237.4 L141.7,237.5 L142.6,237.7 L143.6,238.1 L144.6,238.6 L145.6,239.2 L146.6,239.9 L147.6,240.8 L148.6,241.8 L149.6,242.9 L150.7,244.1 L151.7,245.3 L152.8,246.7 L153.8,248.1 L154.9,249.5 L156.0,250.9 L157.0,252.4 L158.1,253.8 L159.1,255.3 L160.2,256.6 L161.2,257.9 L162.2,259.2 L163.2,260.4 L164.2,261.4 L165.2,262.4 L166.2,263.3 L167.2,264.0 L168.1,264.7 L169.1,265.2 L170.0,265.6 L170.9,265.8 L171.8,266.0 L172.7,266.0 L173.5,265.9 L174.4,265.8 L175.2,265.5 L176.1,265.2 L176.9,264.8 L177.8,264.3 L178.6,263.9 L179.4,263.4 L180.3,262.9 L181.1,262.4 L182.0,261.9 L182.8,261.5 L183.7,261.1 L184.6,260.9 L185.5,260.6 L186.4,260.5 L187.3,260.5 L188.2,260.6 L189.2,260.8 L190.2,261.1 L191.2,261.5 L192.2,262.1 L193.3,262.7 L194.3,263.5 L195.4,264.4 L196.5,265.4 L197.6,266.4 L198.7,267.6 L199.8,268.8 L201.0,270.1 L202.1,271.4 L203.2,272.8 L204.3,274.2 L205.5,275.5 L206.6,276.9 L207.7,278.2 L208.8,279.5 L209.9,280.7 L210.9,281.8 L212.0,282.9 L213.0,283.8 L214.0,284.7 L215.0,285.5 L216.0,286.1 L216.9,286.6 L217.8,287.0 L218.6,287.3 L219.5,287.4 L220.3,287.5 L221.1,287.4 L221.9,287.3 L222.6,287.0 L223.4,286.7 L224.1,286.3 L224.8,285.8 L225.5,285.3 L226.2,284.8 L227.0,284.2 L227.7,283.6 L228.4,283.1 L229.1,282.6 L229.9,282.1 L230.6,281.7 L231.4,281.4 L232.2,281.2 L233.1,281.0 L233.9,281.0 L234.8,281.1 L235.7,281.3 L236.7,281.6 L237.6,282.0 L238.7,282.6 L239.7,283.2 L240.8,284.0 L241.9,284.9 L243.1,285.9 L244.2,287.0 L245.4,288.2 L246.6,289.5 L247.8,290.8 L249.1,292.2 L250.3,293.6 L251.5,295.0 L252.7,296.4 L254.0,297.8 L255.2,299.2 L256.4,300.5 L257.6,301.8 L258.8,303.0 L259.9,304.1 L261.0,305.1 L262.1,306.0 L263.2,306.8 L264.2,307.4 L265.2,308.0 L266.2,308.4 L267.1,308.7 L268.0,308.9 L268.9,309.0 L269.7,309.0 L270.5,308.8 L271.3,308.6 L272.1,308.2 L272.8,307.8 L273.5,307.4 L274.3,306.9 L275.0,306.3 L275.7,305.8 L276.4,305.2 L277.1,304.7 L277.8,304.2 L278.6,303.7 L279.3,303.3 L280.1,302.9 L280.9,302.7 L281.7,302.5 L282.6,302.5 L283.4,302.6 L284.3,302.7 L285.3,303.0 L286.3,303.5 L287.3,304.0 L288.4,304.7 L289.5,305.4 L290.6,306.3 L291.8,307.3 L293.0,308.4 L294.2,309.6 L295.4,310.8 L296.6,312.1 L297.9,313.5 L299.2,314.9 L300.5,316.3 L301.8,317.7 L303.0,319.1 L304.3,320.5 L305.6,321.8 L306.9,323.1 L308.1,324.3 L309.4,325.4 L310.6,326.4 L311.8,327.3 L313.0,328.1 L314.1,328.8 L315.3,329.4 L316.3,329.9 L317.4,330.2 L318.4,330.5 L319.5,330.6 L320.4,330.6 L321.4,330.5 L322.3,330.3 L323.2,330.0 L324.1,329.7 L325.0,329.3 L325.9,328.8 L326.7,328.3 L327.6,327.8 L328.4,327.3 L329.3,326.8 L330.1,326.4 L331.0,326.0 L331.9,325.6 L332.7,325.3 L333.6,325.1 L334.5,325.0 L335.4,325.0 L336.3,325.1 L337.3,325.3 L338.3,325.7 L339.2,326.1 L340.3,326.7 L341.3,327.4 L342.4,328.1 L343.4,329.0 L344.5,330.0 L345.6,331.1 L346.8,332.3 L347.9,333.6 L349.1,334.9 L350.3,336.2 L351.5,337.6 L352.7,339.0 L353.9,340.4 L355.1,341.8 L356.3,343.2 L357.5,344.5 L358.7,345.7 L359.9,346.9 L361.1,348.0 L362.3,349.0 L363.5,349.9 L364.7,350.7 L365.9,351.4 L367.0,351.9 L368.2,352.4 L369.3,352.7 L370.5,352.9 L371.6,353.0 L372.7,353.0 L373.8,352.9 L374.9,352.6 L376.0,352.3 L377.1,352.0 L378.2,351.5 L379.3,351.1 L380.3,350.6 L381.4,350.0 L382.4,349.5 L383.5,349.0 L384.5,348.5 L385.6,348.1 L386.6,347.7 L387.7,347.4 L388.7,347.2 L389.8,347.0 L390.8,347.0 L391.9,347.1 L393.0,347.3 L394.0,347.6 L395.1,348.0 L396.2,348.5 L397.2,349.2 L398.3,350.0 L399.4,350.9 L400.5,351.8 L401.6,352.9 L402.7,354.1 L403.8,355.3 L404.8,356.6 L405.9,357.9 L407.0,359.3 L408.1,360.7 L409.2,362.1 L410.3,363.4 L411.4,364.8 L412.5,366.1 L413.6,367.3 L414.7,368.5 L415.7,369.6 L416.8,370.5 L417.8,371.4 L418.9,372.2 L419.9,372.9 L421.0,373.4 L422.0,373.9 L423.1,374.2 L424.1,374.4 L425.1,374.5 L426.1,374.5 L427.1,374.4 L428.1,374.2 L429.1,373.9 L430.1,373.5 L431.1,373.1 L432.1,372.7 L433.1,372.2 L434.1,371.7 L435.1,371.2 L436.1,370.8 L437.1,370.3 L438.1,370.0 L439.1,369.7 L440.1,369.4 L441.1,369.3 L442.2,369.3 L443.2,369.3 L444.2,369.5 L445.3,369.8 L446.3,370.3 L447.4,370.8 L448.5,371.5 L449.5,372.3 L450.6,373.3 L451.7,374.3 L452.8,375.5 L453.9,376.7 L455.1,378.0 L456.2,379.5 L457.3,380.9 L458.5,382.4 L459.6,384.0 L460.8,385.6 L462.0,387.1 L463.2,388.6 L464.3,390.1 L465.5,391.6 L466.7,393.0 L467.9,394.3 L469.1,395.5 L470.3,396.5 L471.6,397.5 L472.8,398.4 L474.0,399.1 L475.2,399.7 L476.5,400.2 L477.7,400.5 L478.9,400.7 L480.2,400.7 L481.4,400.7 L482.7,400.5 L483.9,400.3 L485.2,399.9 L486.4,399.4 L487.7,398.9 L488.9,398.4 L490.1,397.8 L491.3,397.2 L492.5,396.5 L493.8,395.9 L494.9,395.4 L496.1,394.9 L497.3,394.4 L498.5,394.0 L499.7,393.7 L500.8,393.6 L501.9,393.5 L503.1,393.6 L504.2,393.7 L505.3,394.1 L506.3,394.5 L507.4,395.1 L508.4,395.8 L509.5,396.6 L510.5,397.6 L511.5,398.6 L512.5,399.8 L513.5,401.1 L514.5,402.4 L515.4,403.8 L516.4,405.3 L517.4,406.8 L518.4,408.3 L519.4,409.8 L520.3,411.3 L521.3,412.8 L522.3,414.2 L523.3,415.5 L524.3,416.8 L525.4,417.9 L526.4,419.0 L527.4,419.9 L528.5,420.8 L529.5,421.5 L530.6,422.0 L531.7,422.5 L532.9,422.8 L534.0,423.0 L535.2,423.0 L536.4,422.9 L537.6,422.7 L538.8,422.4 L540.0,422.0 L541.2,421.5 L542.4,421.0 L543.7,420.4 L544.9,419.8 L546.1,419.1 L547.4,418.4 L548.6,417.8 L549.8,417.2 L551.1,416.6 L552.3,416.1 L553.5,415.7 L554.8,415.3 L556.0,415.1 L557.2,414.9 L558.4,414.9 L559.5,415.0 L560.7,415.2 L561.9,415.6 L563.0,416.1 L564.1,416.7 L565.2,417.4 L566.3,418.2 L567.4,419.2 L568.4,420.3 L569.5,421.4 L570.5,422.6 L571.6,423.9 L572.6,425.3 L573.7,426.7 L574.7,428.1 L575.8,429.5 L576.8,430.9 L577.8,432.2 L578.9,433.6 L579.9,434.8 L581.0,436.0 L582.0,437.1 L583.1,438.1 L584.1,439.0 L585.2,439.8 L586.3,440.5 L587.4,441.0 L588.5,441.4 L589.6,441.7 L590.7,441.9 L591.9,442.0 L593.0,442.0 L594.2,441.8 L595.4,441.6 L596.6,441.2 L597.8,440.8 L599.0,440.4 L600.2,439.9 L601.4,439.3 L602.6,438.8 L603.9,438.3 L605.1,437.8 L606.4,437.3 L607.6,436.9 L608.9,436.5 L610.1,436.2 L611.4,436.1 L612.7,436.0 L613.9,436.1 L615.2,436.2 L616.5,436.5 L617.8,437.0 L619.0,437.5 L620.3,438.2 L621.6,439.1 L622.9,440.0 L624.1,441.1 L625.4,442.3 L626.7,443.6 L627.9,445.0 L629.2,446.4 L630.5,448.0 L631.7,449.6 L633.0,451.2 L634.2,452.8 L635.5,454.5 L636.7,456.1 L638.0,457.7 L639.2,459.2 L640.4,460.7 L641.6,462.0 L642.8,463.3 L644.0,464.5 L645.2,465.6 L646.3,466.5 L647.5,467.4 L648.6,468.0 L649.8,468.6 L650.9,469.0 L652.0,469.3 L653.1,469.5 L654.2,469.5 L655.3,469.4 L656.4,469.2 L657.5,469.0 L658.5,468.6 L659.6,468.2 L660.6,467.7 L661.7,467.2 L662.7,466.7 L663.8,466.2 L664.8,465.7 L665.8,465.2 L666.9,464.8 L667.9,464.5 L669.0,464.2 L670.0,464.0 L671.1,464.0 L672.1,464.1 L673.2,464.3 L674.2,464.6 L675.3,465.1 L676.4,465.7 L677.5,466.4 L678.5,467.3 L679.6,468.3 L680.7,469.4 L681.8,470.7 L682.9,472.0 L684.1,473.5 L685.2,475.0 L686.3,476.6 L687.5,478.2 L688.6,479.9 L689.8,481.6 L691.0,483.3 L692.2,485.0 L693.4,486.6 L694.6,488.2 L695.8,489.7 L697.1,491.1 L698.3,492.4 L699.5,493.7 L700.8,494.7 L702.1,495.7 L703.4,496.5 L704.7,497.2 L706.0,497.7 L707.3,498.1 L708.6,498.4 L710.0,498.5 L711.3,498.5 L712.7,498.3 L714.1,498.1 L715.4,497.7 L716.8,497.3 L718.1,496.8 L719.5,496.3 L720.9,495.7 L722.2,495.0 L723.6,494.4 L724.9,493.8 L726.2,493.3 L727.6,492.8 L728.9,492.4 L730.2,492.0 L731.5,491.8 L732.7,491.6 L734.0,491.6 L735.2,491.7 L736.4,492.0 L737.6,492.4 L738.8,492.9 L740.0,493.6 L741.1,494.4 L742.2,495.4 L743.3,496.5 L744.3,497.7 L745.4,499.0 L746.5,500.4 L747.5,501.9 L748.6,503.5 L749.6,505.2 L750.7,506.8 L751.8,508.5 L752.8,510.2 L753.9,511.9 L755.0,513.6 L756.1,515.1 L757.2,516.7 L758.3,518.1 L759.5,519.4 L760.6,520.7 L761.8,521.8 L763.1,522.8 L764.3,523.6 L765.6,524.3 L766.9,524.9 L768.3,525.3 L769.7,525.6 L771.1,525.7 L772.5,525.7 L774.0,525.6 L775.5,525.4 L777.0,525.1 L778.6,524.7 L780.1,524.3 L781.7,523.7 L783.3,523.2 L784.9,522.6 L786.5,522.0 L788.1,521.5 L789.7,521.0 L791.3,520.5 L793.0,520.2 L794.6,519.9 L796.2,519.7 L797.8,519.6 L799.4,519.6 L801.0,519.8 L802.6,520.2 L804.2,520.6 L805.7,521.2 L807.3,522.0 L808.8,522.9 L810.3,523.9 L811.8,525.1 L813.2,526.4 L814.7,527.8 L816.1,529.3 L817.5,530.8 L818.9,532.5 L820.3,534.2 L821.7,535.9 L823.0,537.7 L824.4,539.4 L825.7,541.2 L827.0,542.8 L828.3,544.5 L829.6,546.0 L830.8,547.5 L832.0,548.8 L833.3,550.0 L834.5,551.1 L835.6,552.1 L836.8,552.9 L838.0,553.5 L839.1,554.0 L840.2,554.4 L841.3,554.6 L842.4,554.6 L843.5,554.5" fill="none" stroke="#9a9e94" stroke-width="2.0" stroke-opacity="0.6"/>
</g>
<path d="M360.0,158.1 L400.0,144.3 L440.0,129.9 L518.5,99.7" fill="none" stroke="#c9a07a" stroke-width="1.0" stroke-opacity="0.55"/>
</svg>
<div class="ln" style="left:90px;top:146.9px;width:351px;height:2.2px"></div><div class="ln" style="left:140px;top:267.9px;width:102px;height:2.2px"></div><div class="ln" style="left:252.4px;top:282.5px;width:2.2px;height:78.5px"></div><div class="ln" style="left:309.9px;top:307.5px;width:2.2px;height:220.5px"></div><div class="ln" style="left:382.65px;top:337.5px;width:2.2px;height:71.5px"></div><div class="ln" style="left:489.9px;top:387px;width:2.2px;height:103px"></div><div class="ln" style="left:591.4px;top:443px;width:2.2px;height:37px"></div><div class="ln" style="left:685.4px;top:455px;width:2.2px;height:95px"></div>
<svg width="800" height="800" viewBox="0 0 800 800" style="position:absolute;left:0;top:0">
<circle cx="68" cy="146.2" r="22.4" fill="#1c2252"/>
<circle cx="117.7" cy="268" r="22.5" fill="#1c2252"/>
<circle cx="251.8" cy="383.5" r="23" fill="#1c2252"/>
<circle cx="383.7" cy="430.7" r="22.6" fill="#1c2252"/>
<circle cx="310.2" cy="550.3" r="22.8" fill="#1c2252"/>
<circle cx="489.2" cy="512.3" r="23" fill="#1c2252"/>
<circle cx="591.8" cy="502.2" r="22.8" fill="#1c2252"/>
<circle cx="685.3" cy="575.9" r="26.6" fill="#1c2252"/>
<g fill="none" stroke="#fff" stroke-linecap="round" stroke-linejoin="round" stroke-width="1.25"><path d="M53.6,142.5 A10.7,5.1 0 0 1 75,142.5"/><path d="M53.6,142.5 V149.3 A14.4,5.4 0 0 0 82.3,149.3 V141.6"/><path d="M55.2,146.2 Q68,151.8 81.2,145.6"/><path d="M75,142.5 Q75.6,144.6 78.2,146.6"/><ellipse cx="64.4" cy="142.3" rx="3.7" ry="2.2"/><path d="M60.7,142.3 V145.6 M68.1,142.3 V145.2"/></g>
<g stroke="#fff" stroke-width="0.9" opacity="0.85"><path d="M57.0,150.2 v1.5"/><path d="M59.6,150.2 v1.5"/><path d="M62.2,150.8 v1.5"/><path d="M64.8,150.8 v1.5"/><path d="M67.4,150.8 v1.5"/><path d="M70.0,150.8 v1.5"/><path d="M72.6,150.8 v1.5"/><path d="M75.2,150.2 v1.5"/><path d="M77.8,150.2 v1.5"/></g>
<g transform="translate(118.3,269.2) rotate(7)" fill="#fff"><path d="M-8.3,-17.4 H8.3 L7.4,-9.6 H-7.4 Z"/><path d="M-7.4,-9.4 H7.4 L7,-4.2 H-7 Z"/><path d="M-7,-4.4 H7 C6.2,-2.6 2.6,-1.4 2,1.2 C1.7,4.5 3.1,9.5 3.1,13.5 C3.1,16.8 1.8,18 0,18 C-1.8,18 -3.1,16.8 -3.1,13.5 C-3.1,9.5 -1.7,4.5 -2,1.2 C-2.6,-1.4 -6.2,-2.6 -7,-4.4 Z"/><ellipse cx="-0.9" cy="13.5" rx="0.9" ry="1.5" fill="#1c2252"/><path d="M-6.9,-8.6 H6.9 M-6.6,-5.3 H6.6" stroke="#1c2252" stroke-width="0.5" fill="none"/></g>
<g fill="none" stroke="#fff" stroke-linecap="round" stroke-linejoin="round" stroke-width="1.2"><rect x="239.6" y="368.8" width="8.9" height="27.2" rx="1.5"/><circle cx="244.1" cy="391.6" r="1.6"/><path d="M249.2,390.5 L251.2,372.6 Q251.8,370.2 254,370.9 L256.8,372.2 Q258,373 257.4,374.3 L250,391.2"/><path d="M251.2,389.8 L260,377.8 Q261.2,376.4 262.5,377.3 L264.8,381.8 Q265.4,383.2 264.4,384 L251,393.2"/><path d="M258.5,387.4 H265 Q266.6,387.4 266.6,389 V394.5 Q266.6,396 265,396 H248.6"/></g>

<defs><linearGradient id="flg" gradientUnits="userSpaceOnUse" x1="378" y1="422" x2="393" y2="414"><stop offset="0" stop-color="#bdbdbd"/><stop offset="1" stop-color="#f4f4f4"/></linearGradient></defs><path d="M377.4,422.6 Q386,417.6 392.8,413.8 Q401.2,421.5 402.8,434.8 L392.5,441.9 L381.3,425.9 Z" fill="#fff"/><path d="M364.2,434.6 L377.4,422.6 Q386,417.6 392.8,413.8 L393.6,415.6 Q386,419 381.3,425.9 Z" fill="url(#flg)"/>
<g fill="none" stroke="#fff" stroke-linecap="round" stroke-linejoin="round" stroke-width="1.3" stroke-linecap="butt"><path d="M296.2,560.6 H325.4"/><path d="M296.2,560.6 L311.9,533"/><path d="M301.8,551.2 Q306.5,554 307.2,560.6"/><path d="M312.6,540.4 A26,26 0 0 1 321.4,553.5" stroke-width="1.1"/></g>
<path d="M310.6,538.8 L315.6,538.6 L312.6,542.6 Z" fill="#fff"/>
<path d="M321.9,557.3 L318.6,553.4 L324.3,553.0 Z" fill="#fff"/>
<g stroke="#fff" stroke-width="1.3" fill="none" stroke-linecap="butt"><path d="M485,501.9 V523.5 M488,501.9 V523.5 M491,501.9 V523.5 M494.1,501.9 V523.5"/><path d="M468.8,512.4 H482.3 M478.4,508.8 L482.3,512.4 L478.4,516.1" stroke-linejoin="miter"/><path d="M510,512.4 H496.5 M500.4,508.8 L496.5,512.4 L500.4,516.1" stroke-linejoin="miter"/></g>
<g fill="none" stroke="#fff" stroke-linecap="round" stroke-linejoin="round" stroke-width="1.35" transform="translate(591.3,503.5) scale(1.04) translate(-591.3,-503.5)"><path d="M591.3,489.6 L599.35,502.95 A9.4,9.4 0 1 1 583.25,502.95 Z"/><path d="M585.3,507 A6.6,6.6 0 0 0 591.4,514.4"/></g>
<path d="M666.6,572.3 L685,557.4 L703.4,572.3" fill="none" stroke="#fff" stroke-width="1.8"/>
<path d="M669.9,573.4 L685,560.8 L700.1,573.4 V591.5 H669.9 Z" fill="#fff"/>
</svg>
<div class="t" style="left:45.50px;top:178.62px;transform:scaleX(1.1370)">Available in cut</div><div class="t" style="left:44.21px;top:198.42px;transform:scaleX(1.1715)">lengths of up</div><div class="t" style="left:45.26px;top:219.62px;transform:scaleX(1.1864)">to 5m</div><div class="t" style="left:96.39px;top:295.81px;transform:scaleX(1.0766)">Polyester</div><div class="t" style="left:96.88px;top:316.62px;transform:scaleX(1.1325)">Coating</div><div class="t" style="left:225.65px;top:414.01px;transform:scaleX(1.0783)">5 Colours</div><div class="t" style="left:226.40px;top:434.12px;transform:scaleX(1.1134)">Available</div><div class="t" style="left:355.33px;top:459.01px;transform:scaleX(1.1940)">Matching</div><div class="t" style="left:355.48px;top:480.01px;transform:scaleX(1.0876)">Flashings</div><div class="t" style="left:357.00px;top:500.12px;transform:scaleX(1.0987)">Available</div><div class="t" style="left:282.06px;top:583.87px;transform:scaleX(1.2041)">Minimum Pitch</div><div class="t" style="left:282.36px;top:604.87px;transform:scaleX(1.0727)">10 degrees</div><div class="t" style="left:463.16px;top:545.37px;transform:scaleX(1.1992)">0.5mm</div><div class="t" style="left:463.58px;top:564.62px;transform:scaleX(1.0570)">Thickness</div><div class="t" style="left:564.76px;top:534.62px;transform:scaleX(1.1699)">Dripstop</div><div class="t" style="left:566.40px;top:554.91px;transform:scaleX(1.1046)">Available</div><div class="t" style="left:657.86px;top:611.12px;transform:scaleX(1.0989)">Roof Or Side</div><div class="t" style="left:658.35px;top:631.62px;transform:scaleX(1.1705)">Cladding</div><div class="t" style="left:659.40px;top:651.62px;transform:scaleX(1.1766)">Application</div>
</body></html>
